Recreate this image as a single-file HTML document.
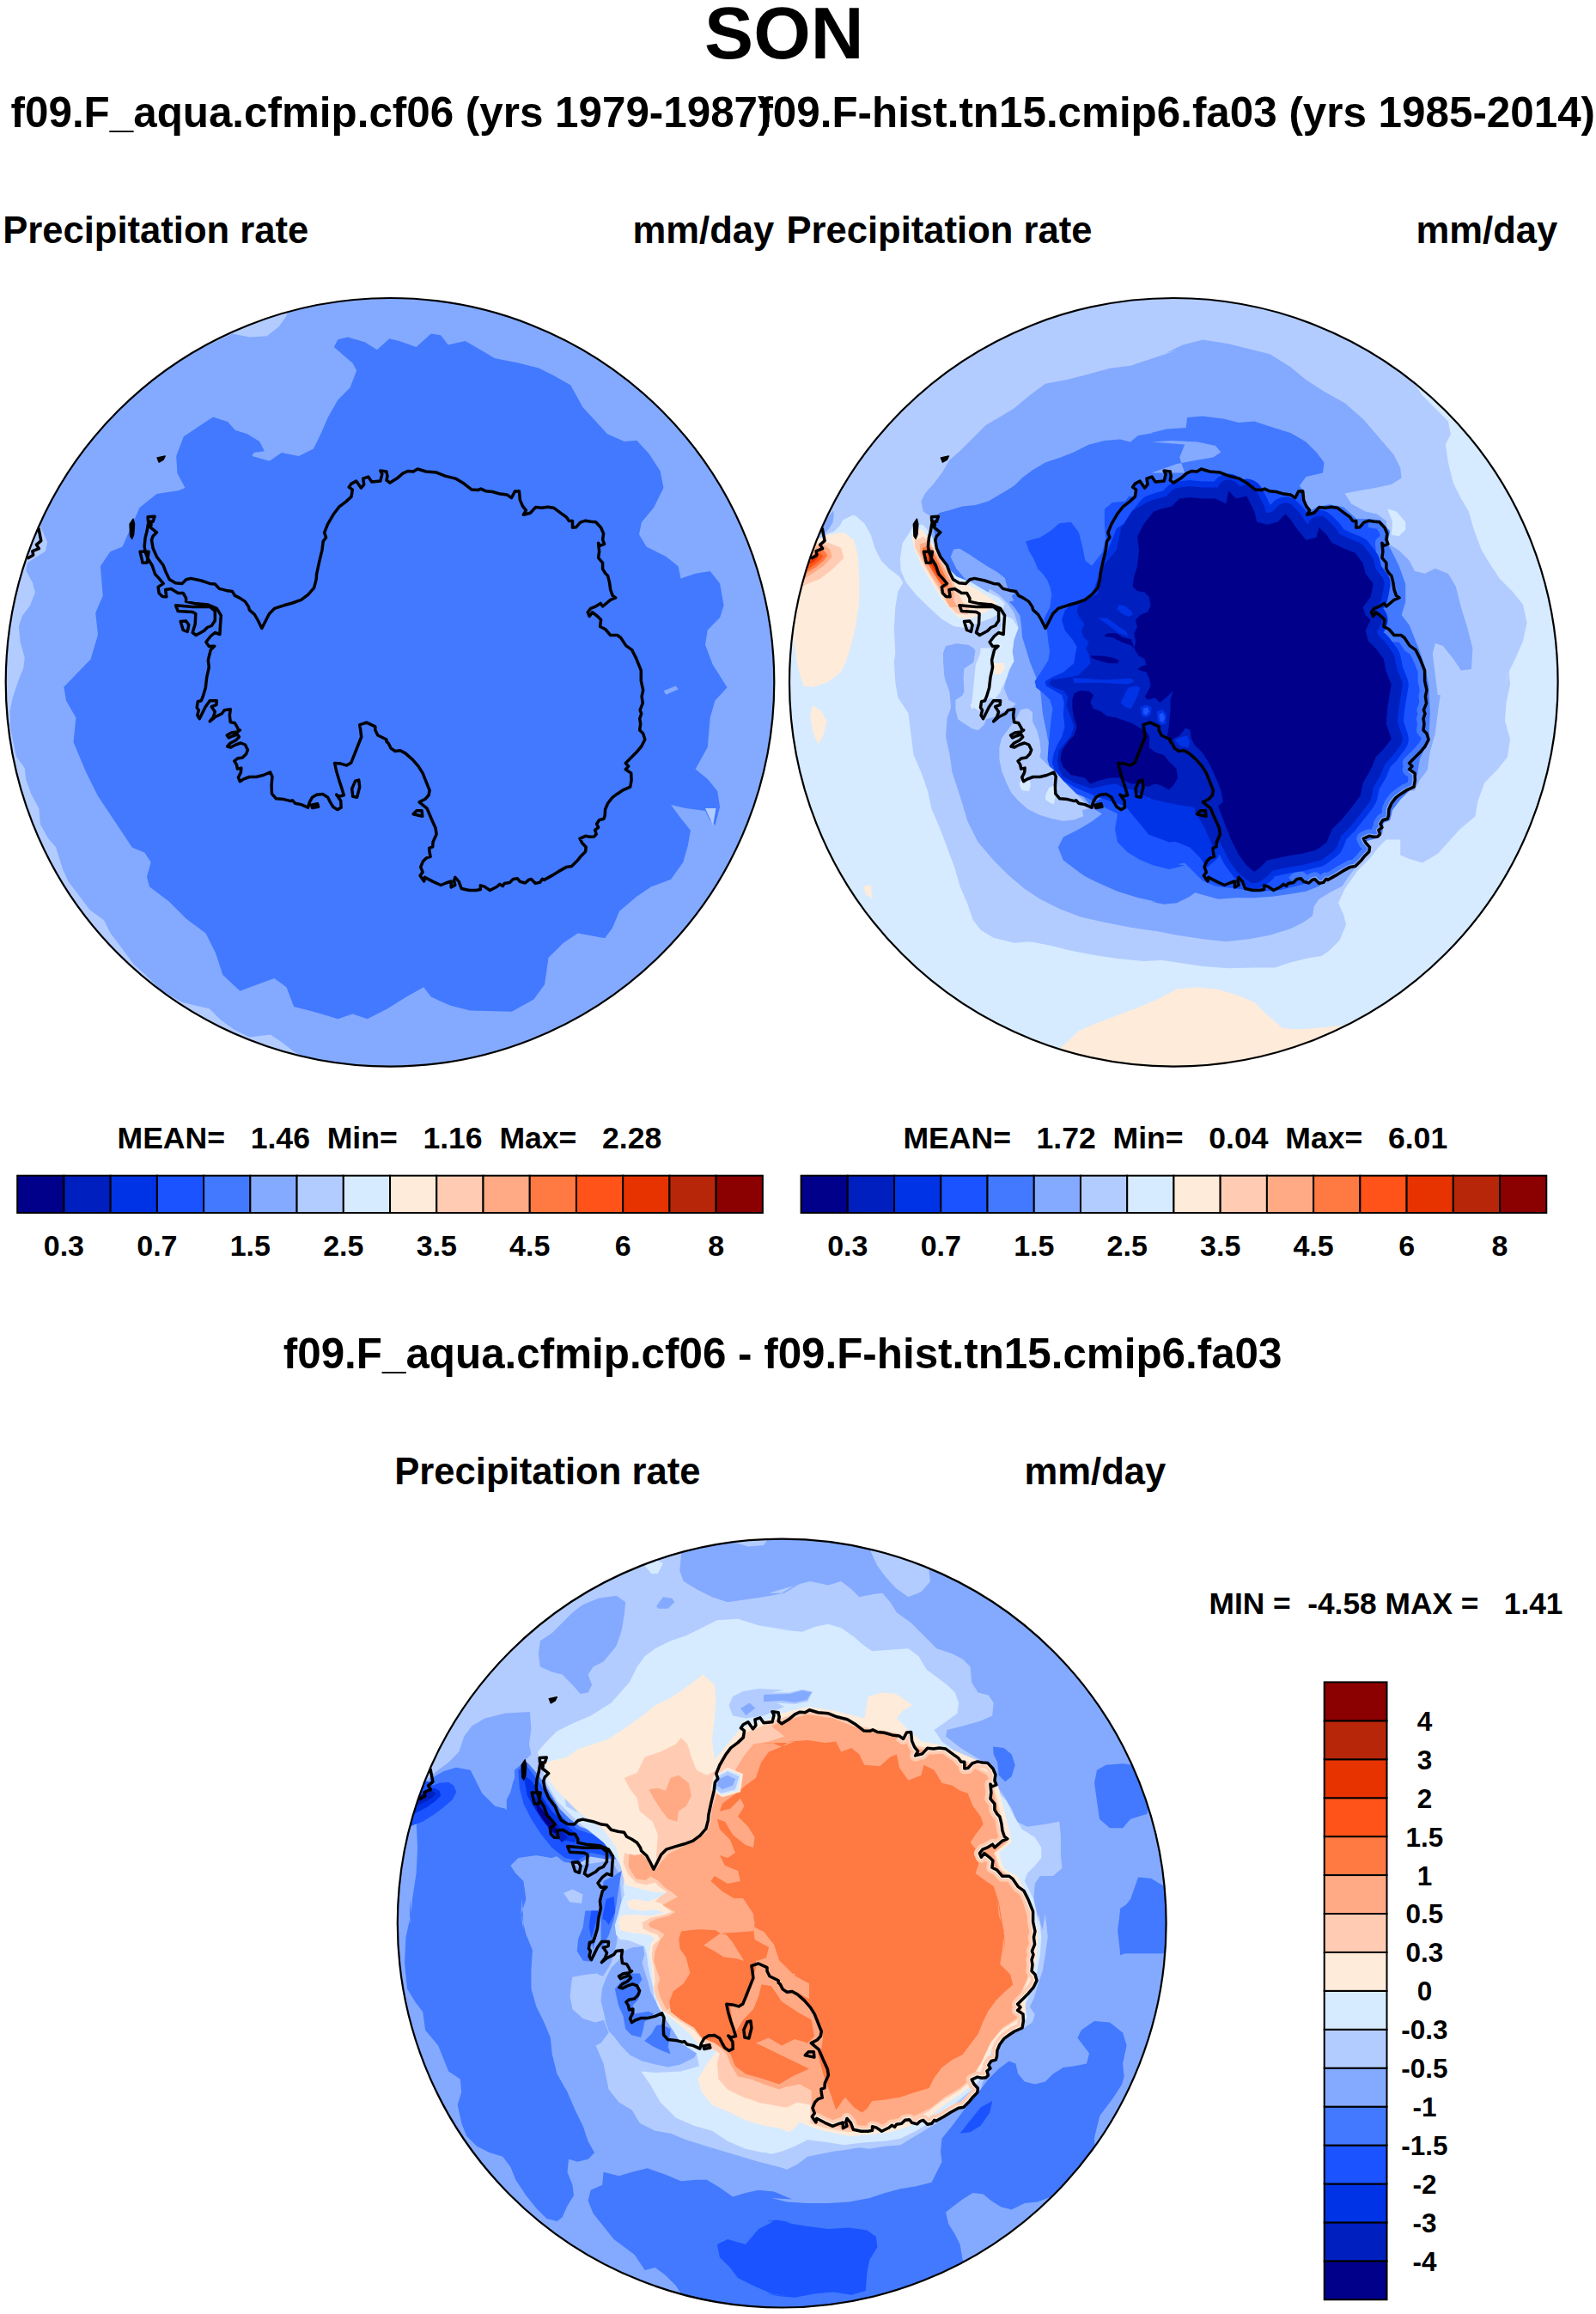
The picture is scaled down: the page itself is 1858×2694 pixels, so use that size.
<!DOCTYPE html>
<html><head><meta charset="utf-8"><title>SON</title>
<style>html,body{margin:0;padding:0;background:#fff;}body{width:1858px;height:2694px;overflow:hidden;font-family:"Liberation Sans",sans-serif;}svg{display:block;}</style>
</head><body>
<svg width="1858" height="2694" viewBox="0 0 1858 2694" font-family="'Liberation Sans', sans-serif" font-weight="bold" fill="#000">
<rect width="1858" height="2694" fill="#fff"/>
<text x="820.1" y="68.4" font-size="85.6" text-anchor="start" xml:space="preserve" style="white-space:pre" >SON</text>
<text x="12.6" y="147.5" font-size="49.35" text-anchor="start" xml:space="preserve" style="white-space:pre" >f09.F_aqua.cfmip.cf06 (yrs 1979-1987)</text>
<text x="883.4" y="147.5" font-size="49.35" text-anchor="start" xml:space="preserve" style="white-space:pre" >f09.F-hist.tn15.cmip6.fa03 (yrs 1985-2014)</text>
<text x="3.2" y="282.6" font-size="43.6" text-anchor="start" xml:space="preserve" style="white-space:pre" >Precipitation rate</text>
<text x="736.5" y="282.6" font-size="43.6" text-anchor="start" xml:space="preserve" style="white-space:pre" >mm/day</text>
<text x="915.4" y="282.6" font-size="43.6" text-anchor="start" xml:space="preserve" style="white-space:pre" >Precipitation rate</text>
<text x="1648.6" y="282.6" font-size="43.6" text-anchor="start" xml:space="preserve" style="white-space:pre" >mm/day</text>
<text x="136.5" y="1336.8" font-size="35.6" text-anchor="start" xml:space="preserve" style="white-space:pre" >MEAN=   1.46  Min=   1.16  Max=   2.28</text>
<text x="1051.4" y="1336.8" font-size="35.6" text-anchor="start" xml:space="preserve" style="white-space:pre" >MEAN=   1.72  Min=   0.04  Max=   6.01</text>
<text x="329.8" y="1593.2" font-size="49.35" text-anchor="start" xml:space="preserve" style="white-space:pre" >f09.F_aqua.cfmip.cf06 - f09.F-hist.tn15.cmip6.fa03</text>
<text x="459.3" y="1727.5" font-size="43.6" text-anchor="start" xml:space="preserve" style="white-space:pre" >Precipitation rate</text>
<text x="1192.6" y="1727.5" font-size="43.6" text-anchor="start" xml:space="preserve" style="white-space:pre" >mm/day</text>
<text x="1407.5" y="1879.3" font-size="35.3" text-anchor="start" xml:space="preserve" style="white-space:pre" >MIN =  -4.58 MAX =   1.41</text>
<clipPath id="cl0"><circle cx="454.0" cy="794.3" r="447.3"/></clipPath>
<clipPath id="coastclip0"><path d="M172.5,609.8 176.1,610.2 175.3,614.2 182.5,619.8 178.1,624.2 176.5,628.6 178.1,638.3 182.5,648.3 190.2,658.3 193.2,666.3 197.2,674.4 204.2,678.8 212.2,679.4 216.6,674.8 222.2,673.4 234.3,676.0 244.3,679.4 250.3,680.0 255.3,685.4 263.3,687.4 270.4,688.4 273.4,693.4 279.4,696.4 285.4,700.4 289.4,706.4 290.4,710.1 296.4,715.5 300.4,722.5 304.8,731.5 309.4,722.5 313.5,714.5 319.5,708.4 330.5,704.8 340.5,702.0 350.6,698.4 358.6,692.4 365.6,684.4 368.2,674.4 368.6,668.3 371.6,654.3 375.0,640.3 376.2,630.3 379.6,625.8 377.6,620.2 381.6,610.2 388.6,598.2 394.7,590.2 402.7,584.1 409.1,578.1 410.3,570.1 406.3,567.1 409.1,563.1 414.7,560.1 420.3,568.1 423.7,564.1 422.7,557.1 428.7,555.1 432.8,561.1 442.8,560.1 444.8,552.1 442.8,548.0 450.0,549.0 450.0,550.1 451.0,554.1 450.0,559.1 454.0,562.1 462.0,557.1 469.0,551.1 475.1,548.4 481.1,549.0 486.1,546.0 496.1,549.0 508.1,550.1 518.2,554.1 530.2,557.1 540.2,563.1 549.2,570.1 556.3,570.5 559.9,569.1 565.3,571.7 573.3,572.5 582.3,575.1 590.4,576.1 595.4,579.7 599.4,572.1 604.4,571.7 605.4,582.1 608.4,589.1 612.4,594.2 609.4,599.2 617.4,597.2 623.4,590.6 630.5,591.2 637.5,590.2 644.5,591.2 652.5,597.2 659.5,602.2 662.5,606.6 666.5,606.6 666.5,614.2 670.6,613.8 675.6,608.2 681.6,606.2 687.6,607.2 693.6,607.8 699.6,614.2 702.6,621.2 701.6,628.2 703.6,633.3 698.6,635.3 696.6,632.3 697.6,642.3 696.6,649.3 701.6,655.3 701.6,662.3 704.6,667.3 707.6,670.4 709.6,678.4 710.7,686.4 713.1,693.4 716.7,696.0 710.7,698.4 701.6,706.0 699.2,702.4 692.6,706.4 687.6,708.4 684.2,712.9 686.2,717.5 689.6,712.9 695.6,717.5 699.6,721.5 698.6,729.5 704.6,732.5 710.7,739.5 718.7,739.5 722.7,742.5 728.7,751.6 735.7,756.6 740.7,766.6 746.3,780.6 746.3,792.7 748.7,803.7 747.1,810.7 748.3,818.7 745.1,826.7 746.7,830.8 744.7,836.8 745.7,842.8 744.7,850.0 744.7,850.0 748.7,854.0 750.8,861.0 746.7,869.0 740.7,876.1 734.7,882.1 728.3,888.5 731.7,892.1 728.3,895.7 734.7,900.1 735.1,908.1 733.7,916.2 724.7,920.2 718.7,924.2 712.7,928.6 707.6,935.2 704.6,942.2 704.2,949.2 703.0,953.3 697.6,954.7 694.6,959.3 696.6,963.3 692.6,966.3 694.2,971.3 691.6,973.9 686.6,974.3 681.6,973.3 675.0,976.3 677.6,981.3 682.2,986.3 681.6,991.4 676.6,996.4 672.6,1001.4 665.5,1008.4 659.5,1009.4 650.5,1014.4 642.5,1019.4 633.5,1024.4 631.5,1023.4 628.4,1027.4 623.4,1028.4 618.4,1023.4 615.4,1024.4 611.4,1028.0 605.4,1026.4 602.4,1022.8 597.4,1023.4 593.4,1027.4 587.3,1028.4 585.3,1031.5 581.9,1029.4 578.3,1032.5 570.3,1036.5 563.9,1032.1 559.3,1030.9 559.3,1035.5 554.3,1036.5 546.2,1036.5 537.2,1034.5 534.2,1026.4 529.8,1021.4 528.6,1025.4 529.8,1030.5 525.2,1032.9 525.2,1026.0 519.2,1028.0 513.2,1030.5 504.1,1026.4 494.5,1021.4 493.7,1026.0 489.1,1019.4 492.1,1015.4 489.7,1009.4 492.5,1002.8 496.5,998.8 501.1,997.4 500.1,992.0 499.7,987.3 503.7,985.9 504.1,980.3 508.1,971.3 507.1,964.3 503.1,955.3 497.1,941.2 488.1,933.8 495.1,930.2 499.1,925.8 500.1,920.2 496.1,910.2 492.1,900.1 487.1,892.1 480.1,884.1 472.1,877.1 466.0,873.7 460.0,874.5 455.0,871.1 452.0,865.0 450.0,863.6 450.0,861.0 439.8,856.0 436.8,850.0 436.8,850.0 436.8,845.8 426.7,841.2 418.7,843.8 419.7,850.0 419.7,850.0 420.7,858.0 416.7,868.0 412.7,878.1 408.7,888.1 403.7,891.1 396.7,889.1 389.6,888.5 391.7,898.1 394.7,908.1 397.7,917.2 400.3,925.8 394.7,927.2 391.7,925.2 396.7,932.2 397.1,940.2 392.7,942.6 387.6,939.2 384.6,934.2 381.6,928.2 375.6,924.6 368.6,925.2 363.6,928.2 360.2,934.2 358.6,940.2 350.6,936.6 343.5,935.2 340.5,931.8 338.5,932.6 330.5,930.6 321.5,929.8 316.5,924.2 316.1,914.2 316.9,904.1 314.5,899.1 306.4,902.5 298.4,904.5 290.4,904.5 283.4,907.1 279.4,909.7 277.4,905.1 280.4,899.1 280.8,894.1 276.4,895.1 275.4,890.1 272.8,886.1 276.4,883.1 282.4,882.1 286.4,878.1 288.4,873.1 285.4,867.0 280.4,865.0 274.4,867.0 268.3,870.1 264.7,869.0 268.3,865.0 274.4,862.0 278.4,858.0 276.4,855.0 270.4,857.0 266.3,859.0 264.3,856.0 269.3,853.0 276.4,852.0 279.4,850.0 277.4,850.0 276.4,846.8 273.4,841.8 268.3,840.8 267.3,832.8 268.3,825.7 261.3,826.7 258.3,830.8 250.3,834.8 244.3,839.8 248.3,834.8 250.3,828.7 246.3,822.7 251.9,820.7 252.3,815.7 244.3,815.7 239.3,822.7 235.3,830.8 232.3,836.8 229.8,832.8 231.3,826.7 229.2,823.7 230.3,816.7 234.3,815.7 236.3,810.7 239.3,800.7 240.7,788.6 243.3,776.6 242.3,768.6 245.3,756.6 249.7,752.2 243.3,752.6 239.9,747.5 245.3,740.5 250.3,736.5 255.9,738.5 256.3,730.5 257.3,716.5 252.3,708.4 242.3,704.0 226.2,702.4 216.6,700.4 216.6,696.4 213.2,690.4 207.2,690.4 199.2,685.4 192.6,686.4 193.8,694.8 189.1,694.4 185.1,690.4 184.1,683.4 190.2,679.4 185.1,673.4 180.5,668.3 177.1,658.3 172.1,650.3 169.1,642.3 168.1,636.3 169.1,626.2 171.1,618.2 172.5,609.8Z"/></clipPath>
<g clip-path="url(#cl0)">
<circle cx="454.0" cy="794.3" r="449.3" fill="#84AAFF"/>
<g fill="#4279FF" ><path d="M74.1,800.1 105.5,767.6 114.0,739.1 111.2,713.4 119.7,693.5 116.9,659.3 128.3,642.2 142.5,636.5 162.5,590.9 182.4,574.9 208.1,570.9 215.5,568.1 206.4,550.9 205.2,531.0 213.8,508.2 230.9,496.8 248.0,485.4 265.1,491.1 273.7,500.8 287.9,505.3 302.2,513.9 307.9,525.3 295.3,527.0 293.6,531.0 313.6,536.7 327.8,527.0 347.8,531.0 364.9,522.4 373.4,505.3 382.0,485.4 393.4,465.4 407.6,451.2 415.1,431.2 410.5,422.7 399.1,413.0 388.8,403.9 393.4,395.3 404.8,392.5 424.7,398.2 439.0,407.3 453.2,394.2 464.7,397.0 484.6,403.9 501.7,388.5 513.1,390.2 521.7,401.6 541.6,397.0 561.6,408.4 575.8,417.0 604.3,422.7 627.1,428.4 644.2,436.9 664.2,448.3 678.4,474.0 692.7,489.4 707.0,505.3 726.9,513.9 741.2,512.7 755.4,528.1 768.5,548.1 772.5,568.1 761.1,590.9 746.9,608.0 744.0,622.2 752.6,636.5 775.4,647.9 789.6,659.3 792.5,673.5 809.6,667.8 826.7,665.0 838.1,679.2 842.6,704.9 838.1,719.1 823.8,733.4 821.0,750.5 829.5,773.3 843.8,796.1 846.6,800.3 832.4,815.7 826.7,835.6 823.8,869.8 809.6,895.5 823.8,906.9 835.2,921.1 838.1,939.4 832.4,961.0 826.7,955.3 821.0,943.9 798.2,941.1 781.1,937.1 792.5,952.5 803.9,966.7 801.0,983.8 795.3,1003.8 781.1,1023.8 758.3,1032.3 741.2,1043.7 721.2,1060.8 712.7,1080.8 704.1,1092.2 672.7,1086.5 655.6,1097.9 638.5,1115.0 634.0,1146.3 621.4,1163.4 595.8,1177.7 547.3,1176.5 524.5,1170.8 501.7,1160.6 493.2,1149.2 473.2,1160.6 450.4,1174.8 427.6,1186.2 410.5,1180.5 393.4,1186.2 364.9,1177.7 342.1,1172.0 333.5,1149.2 319.3,1138.9 299.3,1146.3 279.4,1153.7 259.4,1134.9 250.9,1109.3 239.5,1086.5 216.6,1069.4 196.7,1049.4 173.9,1032.3 171.0,1020.9 175.6,1003.8 168.2,992.4 153.9,986.7 136.8,961.0 114.0,926.8 99.8,898.3 85.5,864.1 88.4,835.6 77.0,815.7 74.1,798.6Z"/></g>
<g fill="#84AAFF" ><path d="M332.4,482.5 340.9,480.8 339.2,496.8 330.7,498.5Z"/><path d="M772.5,804.3 786.8,798.6 789.6,802.5 775.4,808.8Z"/></g>
<g fill="#B3CCFF" ><path d="M45.4,609.9 49.9,619.0 55.1,631.1 53.0,641.7 40.8,649.3 31.8,655.3 30.3,664.4 37.8,678.0 40.8,690.1 34.8,705.2 25.7,717.3 21.8,729.4 23.6,747.6 28.7,765.7 27.2,777.9 20.6,794.5 15.1,811.1 11.5,827.8 12.1,847.4 15.1,862.6 18.8,880.7 28.7,894.3 30.3,908.0 36.3,924.6 45.4,941.2 46.9,959.4 56.0,976.0 65.1,986.6 72.6,1010.8 79.3,1026.0 90.8,1041.1 104.4,1059.2 121.0,1071.3 128.6,1086.5 142.2,1104.6 155.8,1122.8 169.4,1134.9 187.6,1153.0 211.8,1166.7 230.0,1171.2 243.6,1174.2 257.2,1187.8 272.3,1198.4 290.5,1207.5 314.7,1204.5 328.3,1213.6 341.9,1224.1 357.0,1233.2 363.1,1286.2 -30.3,1286.2 -30.3,590.3 30.3,590.3Z"/><path d="M270.8,388.5 290.8,392.5 310.7,391.3 325.0,379.9 333.5,367.4 342.1,340.0 228.1,340.0 228.1,408.4Z"/><path d="M821.0,941.1 833.5,941.1 830.1,961.0Z"/></g>
<path d="M172.5,609.8 176.1,610.2 175.3,614.2 182.5,619.8 178.1,624.2 176.5,628.6 178.1,638.3 182.5,648.3 190.2,658.3 193.2,666.3 197.2,674.4 204.2,678.8 212.2,679.4 216.6,674.8 222.2,673.4 234.3,676.0 244.3,679.4 250.3,680.0 255.3,685.4 263.3,687.4 270.4,688.4 273.4,693.4 279.4,696.4 285.4,700.4 289.4,706.4 290.4,710.1 296.4,715.5 300.4,722.5 304.8,731.5 309.4,722.5 313.5,714.5 319.5,708.4 330.5,704.8 340.5,702.0 350.6,698.4 358.6,692.4 365.6,684.4 368.2,674.4 368.6,668.3 371.6,654.3 375.0,640.3 376.2,630.3 379.6,625.8 377.6,620.2 381.6,610.2 388.6,598.2 394.7,590.2 402.7,584.1 409.1,578.1 410.3,570.1 406.3,567.1 409.1,563.1 414.7,560.1 420.3,568.1 423.7,564.1 422.7,557.1 428.7,555.1 432.8,561.1 442.8,560.1 444.8,552.1 442.8,548.0 450.0,549.0 450.0,550.1 451.0,554.1 450.0,559.1 454.0,562.1 462.0,557.1 469.0,551.1 475.1,548.4 481.1,549.0 486.1,546.0 496.1,549.0 508.1,550.1 518.2,554.1 530.2,557.1 540.2,563.1 549.2,570.1 556.3,570.5 559.9,569.1 565.3,571.7 573.3,572.5 582.3,575.1 590.4,576.1 595.4,579.7 599.4,572.1 604.4,571.7 605.4,582.1 608.4,589.1 612.4,594.2 609.4,599.2 617.4,597.2 623.4,590.6 630.5,591.2 637.5,590.2 644.5,591.2 652.5,597.2 659.5,602.2 662.5,606.6 666.5,606.6 666.5,614.2 670.6,613.8 675.6,608.2 681.6,606.2 687.6,607.2 693.6,607.8 699.6,614.2 702.6,621.2 701.6,628.2 703.6,633.3 698.6,635.3 696.6,632.3 697.6,642.3 696.6,649.3 701.6,655.3 701.6,662.3 704.6,667.3 707.6,670.4 709.6,678.4 710.7,686.4 713.1,693.4 716.7,696.0 710.7,698.4 701.6,706.0 699.2,702.4 692.6,706.4 687.6,708.4 684.2,712.9 686.2,717.5 689.6,712.9 695.6,717.5 699.6,721.5 698.6,729.5 704.6,732.5 710.7,739.5 718.7,739.5 722.7,742.5 728.7,751.6 735.7,756.6 740.7,766.6 746.3,780.6 746.3,792.7 748.7,803.7 747.1,810.7 748.3,818.7 745.1,826.7 746.7,830.8 744.7,836.8 745.7,842.8 744.7,850.0 744.7,850.0 748.7,854.0 750.8,861.0 746.7,869.0 740.7,876.1 734.7,882.1 728.3,888.5 731.7,892.1 728.3,895.7 734.7,900.1 735.1,908.1 733.7,916.2 724.7,920.2 718.7,924.2 712.7,928.6 707.6,935.2 704.6,942.2 704.2,949.2 703.0,953.3 697.6,954.7 694.6,959.3 696.6,963.3 692.6,966.3 694.2,971.3 691.6,973.9 686.6,974.3 681.6,973.3 675.0,976.3 677.6,981.3 682.2,986.3 681.6,991.4 676.6,996.4 672.6,1001.4 665.5,1008.4 659.5,1009.4 650.5,1014.4 642.5,1019.4 633.5,1024.4 631.5,1023.4 628.4,1027.4 623.4,1028.4 618.4,1023.4 615.4,1024.4 611.4,1028.0 605.4,1026.4 602.4,1022.8 597.4,1023.4 593.4,1027.4 587.3,1028.4 585.3,1031.5 581.9,1029.4 578.3,1032.5 570.3,1036.5 563.9,1032.1 559.3,1030.9 559.3,1035.5 554.3,1036.5 546.2,1036.5 537.2,1034.5 534.2,1026.4 529.8,1021.4 528.6,1025.4 529.8,1030.5 525.2,1032.9 525.2,1026.0 519.2,1028.0 513.2,1030.5 504.1,1026.4 494.5,1021.4 493.7,1026.0 489.1,1019.4 492.1,1015.4 489.7,1009.4 492.5,1002.8 496.5,998.8 501.1,997.4 500.1,992.0 499.7,987.3 503.7,985.9 504.1,980.3 508.1,971.3 507.1,964.3 503.1,955.3 497.1,941.2 488.1,933.8 495.1,930.2 499.1,925.8 500.1,920.2 496.1,910.2 492.1,900.1 487.1,892.1 480.1,884.1 472.1,877.1 466.0,873.7 460.0,874.5 455.0,871.1 452.0,865.0 450.0,863.6 450.0,861.0 439.8,856.0 436.8,850.0 436.8,850.0 436.8,845.8 426.7,841.2 418.7,843.8 419.7,850.0 419.7,850.0 420.7,858.0 416.7,868.0 412.7,878.1 408.7,888.1 403.7,891.1 396.7,889.1 389.6,888.5 391.7,898.1 394.7,908.1 397.7,917.2 400.3,925.8 394.7,927.2 391.7,925.2 396.7,932.2 397.1,940.2 392.7,942.6 387.6,939.2 384.6,934.2 381.6,928.2 375.6,924.6 368.6,925.2 363.6,928.2 360.2,934.2 358.6,940.2 350.6,936.6 343.5,935.2 340.5,931.8 338.5,932.6 330.5,930.6 321.5,929.8 316.5,924.2 316.1,914.2 316.9,904.1 314.5,899.1 306.4,902.5 298.4,904.5 290.4,904.5 283.4,907.1 279.4,909.7 277.4,905.1 280.4,899.1 280.8,894.1 276.4,895.1 275.4,890.1 272.8,886.1 276.4,883.1 282.4,882.1 286.4,878.1 288.4,873.1 285.4,867.0 280.4,865.0 274.4,867.0 268.3,870.1 264.7,869.0 268.3,865.0 274.4,862.0 278.4,858.0 276.4,855.0 270.4,857.0 266.3,859.0 264.3,856.0 269.3,853.0 276.4,852.0 279.4,850.0 277.4,850.0 276.4,846.8 273.4,841.8 268.3,840.8 267.3,832.8 268.3,825.7 261.3,826.7 258.3,830.8 250.3,834.8 244.3,839.8 248.3,834.8 250.3,828.7 246.3,822.7 251.9,820.7 252.3,815.7 244.3,815.7 239.3,822.7 235.3,830.8 232.3,836.8 229.8,832.8 231.3,826.7 229.2,823.7 230.3,816.7 234.3,815.7 236.3,810.7 239.3,800.7 240.7,788.6 243.3,776.6 242.3,768.6 245.3,756.6 249.7,752.2 243.3,752.6 239.9,747.5 245.3,740.5 250.3,736.5 255.9,738.5 256.3,730.5 257.3,716.5 252.3,708.4 242.3,704.0 226.2,702.4 216.6,700.4 216.6,696.4 213.2,690.4 207.2,690.4 199.2,685.4 192.6,686.4 193.8,694.8 189.1,694.4 185.1,690.4 184.1,683.4 190.2,679.4 185.1,673.4 180.5,668.3 177.1,658.3 172.1,650.3 169.1,642.3 168.1,636.3 169.1,626.2 171.1,618.2 172.5,609.8Z M204.6,704.8 224.2,706.4 244.3,706.4 250.3,711.5 250.3,722.5 246.3,728.5 241.3,730.5 237.3,734.5 228.2,739.5 224.2,736.5 227.2,726.5 227.8,714.5 224.2,712.5 207.2,711.5Z M210.2,723.5 216.6,722.9 219.8,727.5 218.2,735.5 213.2,733.5Z M172.1,601.8 180.1,601.2 178.1,607.2 172.5,607.2Z M481.1,947.8 485.1,943.8 491.1,943.8 491.7,950.3 487.1,949.2Z M362.6,937.2 369.6,935.8 370.6,939.2 363.6,940.6Z M413.7,909.1 417.7,908.1 418.7,916.2 415.7,928.2 410.7,927.2 409.7,918.2Z M163.1,642.3 173.1,642.3 171.1,655.3 166.1,655.3Z" fill="none" stroke="#000" stroke-width="3.5" stroke-linejoin="round"/>
<path d="M155.1,604.2 156.5,610.2 155.7,622.2 153.7,627.2 151.7,624.2 151.1,610.2Z M183.1,533.0 192.2,531.0 190.2,535.0 185.1,538.0Z" fill="#000" stroke="#000" stroke-width="1.5" stroke-linejoin="round"/>
<path d="M44.8,614.5 47.8,629.6 42.4,634.1 45.4,638.7 37.8,641.7 38.7,646.2 31.8,650.2" fill="none" stroke="#000" stroke-width="3.5" stroke-linejoin="round"/>
</g>
<circle cx="454.0" cy="794.3" r="447.3" fill="none" stroke="#000" stroke-width="2.2"/>
<clipPath id="cl1"><circle cx="1366.3" cy="794.3" r="447.3"/></clipPath>
<clipPath id="coastclip1"><path d="M1084.8,609.8 1088.4,610.2 1087.6,614.2 1094.8,619.8 1090.4,624.2 1088.8,628.6 1090.4,638.3 1094.8,648.3 1102.5,658.3 1105.5,666.3 1109.5,674.4 1116.5,678.8 1124.5,679.4 1128.9,674.8 1134.5,673.4 1146.6,676.0 1156.6,679.4 1162.6,680.0 1167.6,685.4 1175.6,687.4 1182.7,688.4 1185.7,693.4 1191.7,696.4 1197.7,700.4 1201.7,706.4 1202.7,710.1 1208.7,715.5 1212.7,722.5 1217.1,731.5 1221.7,722.5 1225.8,714.5 1231.8,708.4 1242.8,704.8 1252.8,702.0 1262.9,698.4 1270.9,692.4 1277.9,684.4 1280.5,674.4 1280.9,668.3 1283.9,654.3 1287.3,640.3 1288.5,630.3 1291.9,625.8 1289.9,620.2 1293.9,610.2 1300.9,598.2 1307.0,590.2 1315.0,584.1 1321.4,578.1 1322.6,570.1 1318.6,567.1 1321.4,563.1 1327.0,560.1 1332.6,568.1 1336.0,564.1 1335.0,557.1 1341.0,555.1 1345.1,561.1 1355.1,560.1 1357.1,552.1 1355.1,548.0 1362.3,549.0 1362.3,550.1 1363.3,554.1 1362.3,559.1 1366.3,562.1 1374.3,557.1 1381.3,551.1 1387.4,548.4 1393.4,549.0 1398.4,546.0 1408.4,549.0 1420.4,550.1 1430.5,554.1 1442.5,557.1 1452.5,563.1 1461.5,570.1 1468.6,570.5 1472.2,569.1 1477.6,571.7 1485.6,572.5 1494.6,575.1 1502.7,576.1 1507.7,579.7 1511.7,572.1 1516.7,571.7 1517.7,582.1 1520.7,589.1 1524.7,594.2 1521.7,599.2 1529.7,597.2 1535.7,590.6 1542.8,591.2 1549.8,590.2 1556.8,591.2 1564.8,597.2 1571.8,602.2 1574.8,606.6 1578.8,606.6 1578.8,614.2 1582.9,613.8 1587.9,608.2 1593.9,606.2 1599.9,607.2 1605.9,607.8 1611.9,614.2 1614.9,621.2 1613.9,628.2 1615.9,633.3 1610.9,635.3 1608.9,632.3 1609.9,642.3 1608.9,649.3 1613.9,655.3 1613.9,662.3 1616.9,667.3 1619.9,670.4 1621.9,678.4 1623.0,686.4 1625.4,693.4 1629.0,696.0 1623.0,698.4 1613.9,706.0 1611.5,702.4 1604.9,706.4 1599.9,708.4 1596.5,712.9 1598.5,717.5 1601.9,712.9 1607.9,717.5 1611.9,721.5 1610.9,729.5 1616.9,732.5 1623.0,739.5 1631.0,739.5 1635.0,742.5 1641.0,751.6 1648.0,756.6 1653.0,766.6 1658.6,780.6 1658.6,792.7 1661.0,803.7 1659.4,810.7 1660.6,818.7 1657.4,826.7 1659.0,830.8 1657.0,836.8 1658.0,842.8 1657.0,850.0 1657.0,850.0 1661.0,854.0 1663.1,861.0 1659.0,869.0 1653.0,876.1 1647.0,882.1 1640.6,888.5 1644.0,892.1 1640.6,895.7 1647.0,900.1 1647.4,908.1 1646.0,916.2 1637.0,920.2 1631.0,924.2 1625.0,928.6 1619.9,935.2 1616.9,942.2 1616.5,949.2 1615.3,953.3 1609.9,954.7 1606.9,959.3 1608.9,963.3 1604.9,966.3 1606.5,971.3 1603.9,973.9 1598.9,974.3 1593.9,973.3 1587.3,976.3 1589.9,981.3 1594.5,986.3 1593.9,991.4 1588.9,996.4 1584.9,1001.4 1577.8,1008.4 1571.8,1009.4 1562.8,1014.4 1554.8,1019.4 1545.8,1024.4 1543.8,1023.4 1540.7,1027.4 1535.7,1028.4 1530.7,1023.4 1527.7,1024.4 1523.7,1028.0 1517.7,1026.4 1514.7,1022.8 1509.7,1023.4 1505.7,1027.4 1499.6,1028.4 1497.6,1031.5 1494.2,1029.4 1490.6,1032.5 1482.6,1036.5 1476.2,1032.1 1471.6,1030.9 1471.6,1035.5 1466.6,1036.5 1458.5,1036.5 1449.5,1034.5 1446.5,1026.4 1442.1,1021.4 1440.9,1025.4 1442.1,1030.5 1437.5,1032.9 1437.5,1026.0 1431.5,1028.0 1425.5,1030.5 1416.4,1026.4 1406.8,1021.4 1406.0,1026.0 1401.4,1019.4 1404.4,1015.4 1402.0,1009.4 1404.8,1002.8 1408.8,998.8 1413.4,997.4 1412.4,992.0 1412.0,987.3 1416.0,985.9 1416.4,980.3 1420.4,971.3 1419.4,964.3 1415.4,955.3 1409.4,941.2 1400.4,933.8 1407.4,930.2 1411.4,925.8 1412.4,920.2 1408.4,910.2 1404.4,900.1 1399.4,892.1 1392.4,884.1 1384.4,877.1 1378.3,873.7 1372.3,874.5 1367.3,871.1 1364.3,865.0 1362.3,863.6 1362.3,861.0 1352.1,856.0 1349.1,850.0 1349.1,850.0 1349.1,845.8 1339.0,841.2 1331.0,843.8 1332.0,850.0 1332.0,850.0 1333.0,858.0 1329.0,868.0 1325.0,878.1 1321.0,888.1 1316.0,891.1 1309.0,889.1 1301.9,888.5 1304.0,898.1 1307.0,908.1 1310.0,917.2 1312.6,925.8 1307.0,927.2 1304.0,925.2 1309.0,932.2 1309.4,940.2 1305.0,942.6 1299.9,939.2 1296.9,934.2 1293.9,928.2 1287.9,924.6 1280.9,925.2 1275.9,928.2 1272.5,934.2 1270.9,940.2 1262.9,936.6 1255.8,935.2 1252.8,931.8 1250.8,932.6 1242.8,930.6 1233.8,929.8 1228.8,924.2 1228.4,914.2 1229.2,904.1 1226.8,899.1 1218.7,902.5 1210.7,904.5 1202.7,904.5 1195.7,907.1 1191.7,909.7 1189.7,905.1 1192.7,899.1 1193.1,894.1 1188.7,895.1 1187.7,890.1 1185.1,886.1 1188.7,883.1 1194.7,882.1 1198.7,878.1 1200.7,873.1 1197.7,867.0 1192.7,865.0 1186.7,867.0 1180.6,870.1 1177.0,869.0 1180.6,865.0 1186.7,862.0 1190.7,858.0 1188.7,855.0 1182.7,857.0 1178.6,859.0 1176.6,856.0 1181.6,853.0 1188.7,852.0 1191.7,850.0 1189.7,850.0 1188.7,846.8 1185.7,841.8 1180.6,840.8 1179.6,832.8 1180.6,825.7 1173.6,826.7 1170.6,830.8 1162.6,834.8 1156.6,839.8 1160.6,834.8 1162.6,828.7 1158.6,822.7 1164.2,820.7 1164.6,815.7 1156.6,815.7 1151.6,822.7 1147.6,830.8 1144.6,836.8 1142.1,832.8 1143.6,826.7 1141.5,823.7 1142.6,816.7 1146.6,815.7 1148.6,810.7 1151.6,800.7 1153.0,788.6 1155.6,776.6 1154.6,768.6 1157.6,756.6 1162.0,752.2 1155.6,752.6 1152.2,747.5 1157.6,740.5 1162.6,736.5 1168.2,738.5 1168.6,730.5 1169.6,716.5 1164.6,708.4 1154.6,704.0 1138.5,702.4 1128.9,700.4 1128.9,696.4 1125.5,690.4 1119.5,690.4 1111.5,685.4 1104.9,686.4 1106.1,694.8 1101.4,694.4 1097.4,690.4 1096.4,683.4 1102.5,679.4 1097.4,673.4 1092.8,668.3 1089.4,658.3 1084.4,650.3 1081.4,642.3 1080.4,636.3 1081.4,626.2 1083.4,618.2 1084.8,609.8Z"/></clipPath>
<g clip-path="url(#cl1)">
<circle cx="1366.3" cy="794.3" r="449.3" fill="#D6EBFF"/>
<g fill="#B3CCFF" ><path d="M1750.0,300.0 1646.8,446.8 1655.8,460.3 1670.8,475.3 1685.9,490.4 1688.9,505.4 1682.9,517.4 1685.9,538.5 1691.9,562.6 1700.9,580.6 1709.9,595.6 1715.9,616.7 1725.0,640.8 1734.0,655.8 1746.0,673.8 1761.1,688.9 1773.1,703.9 1777.6,725.0 1773.1,746.0 1764.1,767.1 1755.0,785.1 1752.0,803.2 1756.5,779.0 1758.0,797.1 1753.5,818.1 1752.0,839.2 1758.0,860.2 1755.0,881.3 1743.0,896.3 1728.0,911.4 1720.5,932.4 1717.4,950.5 1699.4,965.5 1685.9,980.5 1673.8,994.1 1655.8,1004.6 1640.8,1000.1 1630.2,995.6 1630.2,977.5 1613.7,977.5 1604.7,986.5 1595.6,998.6 1580.6,1013.6 1565.6,1034.7 1558.0,1051.2 1564.1,1064.7 1567.1,1076.8 1559.5,1094.8 1547.5,1106.8 1538.5,1112.9 1520.5,1115.9 1502.4,1120.4 1484.4,1126.4 1460.3,1126.4 1430.2,1127.3 1400.2,1124.9 1370.1,1120.4 1340.0,1115.9 1361.1,1117.4 1331.1,1118.9 1301.0,1115.9 1270.9,1111.4 1246.8,1106.8 1222.8,1100.8 1198.7,1096.3 1180.7,1097.8 1156.6,1091.8 1141.6,1082.8 1132.6,1070.8 1126.5,1052.7 1117.5,1031.7 1111.5,1010.6 1102.5,986.5 1093.5,962.5 1084.4,941.4 1079.9,920.4 1072.4,899.3 1063.4,878.3 1060.4,854.2 1057.4,830.2 1045.3,812.1 1042.3,794.1 1040.8,770.0 1042.3,761.1 1040.8,731.0 1042.3,706.9 1045.3,688.9 1051.4,678.3 1046.8,670.8 1036.3,663.3 1025.8,652.8 1018.3,637.7 1013.8,622.7 1006.2,609.2 995.7,600.2 992.9,599.7 981.1,605.6 978.2,611.4 970.8,618.8 959.1,623.2 940.0,640.0 900.0,300.0Z"/></g>
<g fill="#84AAFF" ><path d="M1084.4,601.7 1074.8,595.6 1072.4,583.6 1076.9,574.6 1087.4,562.6 1096.5,550.5 1105.5,535.5 1117.5,525.0 1132.6,509.9 1147.6,494.9 1165.6,484.4 1180.7,475.3 1198.7,460.3 1216.8,446.8 1240.8,442.3 1264.9,436.2 1292.0,428.7 1316.0,425.7 1343.1,416.7 1370.2,407.7 1340.0,415.2 1358.0,410.7 1376.1,401.7 1400.2,395.6 1430.2,400.2 1454.3,406.2 1478.3,412.2 1502.4,427.2 1520.5,442.3 1541.5,455.8 1565.6,469.3 1586.6,487.4 1604.7,508.4 1622.7,529.5 1630.2,544.5 1631.7,556.5 1619.7,564.1 1598.6,568.6 1580.6,571.6 1565.6,574.6 1573.1,586.6 1589.6,595.6 1603.2,598.6 1613.7,606.2 1616.7,633.2 1628.7,640.8 1640.8,652.8 1646.8,664.8 1658.8,667.8 1670.8,661.8 1685.9,667.8 1694.9,682.9 1700.9,706.9 1708.4,731.0 1714.4,755.0 1712.9,779.1 1700.9,780.6 1691.9,767.1 1679.8,752.0 1670.8,749.0 1667.8,761.1 1670.8,785.1 1673.8,809.2 1676.8,809.1 1673.8,830.2 1670.8,854.2 1664.8,875.3 1661.8,896.3 1652.8,908.3 1646.8,920.4 1640.8,920.4 1628.7,929.4 1619.7,941.4 1616.7,953.5 1609.2,956.5 1607.7,968.5 1601.7,974.5 1589.6,977.5 1594.1,986.5 1586.6,1001.6 1577.6,1010.6 1568.6,1022.6 1562.6,1031.7 1550.5,1037.7 1535.5,1046.7 1529.5,1055.7 1528.0,1066.2 1517.4,1073.8 1502.4,1081.3 1478.3,1088.8 1454.3,1093.3 1427.2,1096.3 1400.2,1093.3 1370.1,1088.8 1340.0,1082.8 1346.1,1084.3 1316.0,1079.8 1285.9,1073.8 1258.9,1067.7 1234.8,1058.7 1210.8,1046.7 1192.7,1034.7 1174.7,1019.6 1156.6,1001.6 1138.6,980.5 1126.5,956.5 1117.5,926.4 1108.5,899.3 1105.5,878.3 1101.0,857.2 1102.5,836.2 1107.0,824.1 1105.5,806.1 1099.5,788.0 1098.0,770.0 1098.0,760.0 1101.0,752.0 1115.0,749.0 1130.0,751.0 1152.0,748.0 1168.0,738.0 1169.0,716.0 1154.0,704.0 1129.0,700.0 1102.0,679.0 1089.0,658.0 1080.0,636.0 1085.0,610.0Z"/></g>
<g fill="#4279FF" ><path d="M1090.5,601.7 1093.5,597.1 1105.5,594.1 1120.5,589.6 1135.6,588.1 1150.6,583.6 1168.6,573.1 1180.7,565.6 1189.7,556.5 1201.7,547.5 1216.8,538.5 1234.8,532.5 1249.8,526.5 1267.9,517.4 1285.9,512.9 1304.0,511.4 1316.0,514.4 1325.0,506.9 1343.1,503.9 1361.1,502.4 1379.2,505.4 1340.0,503.9 1358.0,499.4 1380.6,497.9 1382.1,485.9 1400.2,484.4 1424.2,487.4 1442.3,491.9 1460.3,490.4 1478.3,496.4 1502.4,503.9 1520.5,514.4 1532.5,526.5 1541.5,538.5 1540.0,550.5 1520.5,555.0 1512.9,565.6 1517.4,571.6 1522.0,597.1 1532.5,590.2 1547.5,587.2 1564.1,590.2 1579.1,604.1 1591.1,604.1 1606.2,605.3 1618.2,618.2 1615.2,633.2 1619.7,640.8 1628.7,658.8 1636.2,679.8 1636.2,700.9 1631.7,715.9 1640.8,728.0 1646.8,743.0 1652.8,758.0 1658.8,776.1 1663.3,797.1 1664.8,830.2 1663.3,860.2 1652.8,884.3 1649.8,902.3 1642.3,918.9 1630.2,930.9 1621.2,942.9 1618.2,955.0 1610.7,958.0 1609.2,970.0 1603.2,976.0 1591.1,979.0 1595.0,987.1 1580.6,994.1 1571.6,1004.6 1562.6,1010.6 1550.5,1019.6 1535.5,1031.7 1520.5,1037.7 1502.4,1040.7 1481.4,1043.7 1460.3,1045.2 1439.2,1045.2 1418.2,1046.7 1391.1,1039.2 1385.1,1043.7 1370.1,1051.2 1355.0,1052.7 1340.0,1049.7 1379.2,1046.7 1361.1,1051.2 1346.1,1049.7 1325.0,1045.2 1301.0,1037.7 1279.9,1028.6 1261.9,1019.6 1249.8,1010.6 1237.8,1001.6 1231.8,986.5 1237.8,974.5 1255.9,965.5 1270.9,956.5 1282.9,947.4 1270.9,939.9 1255.9,920.4 1234.8,902.3 1225.8,884.3 1219.8,860.2 1213.8,830.2 1210.8,800.1 1198.7,770.0 1198.8,770.0 1194.4,755.4 1190.0,741.4 1189.1,729.1 1187.4,716.8 1180.4,706.3 1173.3,699.3 1182.7,688.4 1167.6,685.4 1156.6,679.4 1134.5,673.4 1124.5,679.4 1109.5,674.4 1094.8,648.3 1088.8,624.2 1085.0,610.0Z"/></g>
<g fill="#1A53FF" ><path d="M1194.2,630.2 1210.8,625.7 1222.8,618.2 1233.3,609.2 1246.8,607.7 1255.9,619.7 1260.4,637.7 1263.4,652.8 1270.9,658.8 1282.9,643.8 1287.4,628.7 1285.9,610.7 1285.9,592.6 1295.0,585.1 1310.0,583.6 1314.5,577.6 1325.0,580.6 1301.0,610.7 1292.0,640.8 1276.8,685.3 1259.3,702.8 1233.0,720.4 1217.2,730.9 1215.4,720.4 1222.5,706.3 1224.2,692.3 1222.5,683.5 1218.9,674.7 1213.7,667.7 1208.4,662.5 1203.2,650.2 1197.9,641.4 1194.4,630.9Z"/><path d="M1594.1,986.5 1586.6,1001.6 1574.6,1007.6 1562.6,1013.6 1547.5,1019.6 1520.5,1028.6 1490.4,1036.2 1466.3,1037.7 1439.2,1034.7 1415.2,1031.7 1400.2,1025.6 1385.1,1010.6 1379.1,1004.6 1364.1,1007.6 1352.0,1004.6 1340.0,1001.6 1379.2,1007.6 1361.1,1012.1 1343.1,1007.6 1328.0,1001.6 1313.0,992.6 1301.0,980.5 1298.0,965.5 1301.0,947.4 1288.9,941.4 1274.5,933.6 1310.0,914.4 1361.1,899.3 1370.1,920.4 1400.2,950.5 1430.2,980.5 1460.3,1010.6 1520.5,1004.6 1580.6,980.5Z"/></g>
<g fill="#1A53FF" clip-path="url(#coastclip1)"><path d="M1221.0,560.0 1221.2,660.0 1222.5,683.5 1224.2,692.3 1222.1,705.6 1219.5,717.9 1218.9,733.7 1220.4,747.7 1222.1,758.2 1220.4,768.8 1211.6,782.8 1204.6,793.3 1206.3,800.4 1215.1,807.4 1222.1,814.4 1225.6,824.9 1223.9,835.4 1222.1,853.0 1220.4,870.5 1219.5,884.6 1223.0,896.8 1228.2,909.1 1237.9,917.9 1250.2,923.2 1264.2,928.4 1274.7,933.7 1300.0,960.0 1850.0,1260.0 1850.0,300.0 1221.0,300.0Z"/></g>
<g clip-path="url(#coastclip1)" fill="none" stroke-linejoin="round"><path d="M1593.9,606.2 1599.9,607.2 1605.9,607.8 1611.9,614.2 1614.9,621.2 1613.9,628.2 1615.9,633.3 1610.9,635.3 1608.9,632.3 1609.9,642.3 1608.9,649.3 1613.9,655.3 1613.9,662.3 1616.9,667.3 1619.9,670.4 1621.9,678.4 1623.0,686.4 1625.4,693.4 1629.0,696.0 1623.0,698.4 1613.9,706.0 1611.5,702.4 1604.9,706.4 1599.9,708.4 1596.5,712.9 1598.5,717.5 1601.9,712.9 1607.9,717.5 1611.9,721.5 1610.9,729.5 1616.9,732.5 1623.0,739.5 1631.0,739.5 1635.0,742.5 1641.0,751.6 1648.0,756.6 1653.0,766.6 1658.6,780.6 1658.6,792.7 1661.0,803.7 1659.4,810.7 1660.6,818.7 1657.4,826.7 1659.0,830.8 1657.0,836.8 1658.0,842.8 1657.0,850.0 1657.0,850.0 1661.0,854.0 1663.1,861.0 1659.0,869.0 1653.0,876.1 1647.0,882.1 1640.6,888.5 1644.0,892.1 1640.6,895.7 1647.0,900.1 1647.4,908.1 1646.0,916.2 1637.0,920.2 1631.0,924.2 1625.0,928.6 1619.9,935.2 1616.9,942.2 1616.5,949.2 1615.3,953.3 1609.9,954.7 1606.9,959.3 1608.9,963.3 1604.9,966.3 1606.5,971.3 1603.9,973.9 1598.9,974.3 1593.9,973.3 1587.3,976.3 1589.9,981.3 1594.5,986.3 1593.9,991.4 1588.9,996.4 1584.9,1001.4 1577.8,1008.4 1571.8,1009.4 1562.8,1014.4 1554.8,1019.4 1545.8,1024.4 1543.8,1023.4 1540.7,1027.4 1535.7,1028.4 1530.7,1023.4 1527.7,1024.4 1523.7,1028.0 1517.7,1026.4 1514.7,1022.8 1509.7,1023.4 1505.7,1027.4" stroke="#4279FF" stroke-width="16"/><path d="M1640.6,895.7 1647.0,900.1 1647.4,908.1 1646.0,916.2 1637.0,920.2 1631.0,924.2 1625.0,928.6 1619.9,935.2 1616.9,942.2 1616.5,949.2 1615.3,953.3 1609.9,954.7 1606.9,959.3 1608.9,963.3 1604.9,966.3 1606.5,971.3 1603.9,973.9 1598.9,974.3 1593.9,973.3 1587.3,976.3 1589.9,981.3 1594.5,986.3 1593.9,991.4 1588.9,996.4 1584.9,1001.4 1577.8,1008.4 1571.8,1009.4 1562.8,1014.4 1554.8,1019.4 1545.8,1024.4 1543.8,1023.4 1540.7,1027.4 1535.7,1028.4 1530.7,1023.4 1527.7,1024.4 1523.7,1028.0" stroke="#84AAFF" stroke-width="6"/></g>
<g fill="#0033E6" ><path d="M1300.0,615.0 1286.0,650.0 1276.5,677.5 1271.2,693.3 1257.2,700.4 1246.7,703.9 1239.6,710.9 1236.1,721.4 1239.6,733.7 1248.4,744.2 1253.7,753.0 1251.9,761.8 1250.2,772.3 1237.9,782.8 1225.6,788.1 1216.8,793.3 1217.7,798.6 1227.4,803.9 1236.1,809.1 1238.8,817.9 1237.9,831.9 1239.6,846.0 1236.1,858.2 1230.9,867.0 1226.5,877.5 1224.7,888.1 1229.1,900.4 1237.9,909.1 1250.2,916.1 1262.5,921.4 1274.7,926.7 1285.3,930.2 1310.0,938.4 1325.0,956.5 1337.1,971.5 1361.1,980.5 1390.0,977.5 1355.0,977.5 1370.1,980.5 1385.1,986.5 1397.1,998.6 1404.7,1010.6 1418.2,998.6 1427.2,965.5 1415.2,920.4 1420.0,800.0 1420.0,640.0 1340.0,590.0Z"/></g>
<g fill="#0033E6" stroke="#0033E6" stroke-width="40" stroke-linejoin="round"><path d="M1343.1,595.6 1352.0,592.6 1364.1,589.6 1373.1,580.6 1385.1,579.1 1400.2,580.6 1415.2,580.6 1427.2,586.6 1430.2,571.6 1439.2,580.6 1451.3,577.6 1460.3,595.6 1463.3,607.7 1475.3,610.7 1487.4,607.7 1496.4,598.6 1502.4,604.7 1508.4,613.7 1520.5,628.7 1532.5,625.7 1535.5,613.7 1544.5,622.7 1550.5,631.7 1562.6,637.7 1577.6,643.8 1586.6,655.8 1589.6,667.8 1598.6,679.8 1595.6,694.9 1586.6,706.9 1589.6,715.9 1595.6,722.0 1589.6,734.0 1592.6,746.0 1601.7,755.0 1610.7,767.1 1613.7,782.1 1619.7,797.1 1615.2,824.1 1613.7,842.2 1619.7,860.2 1610.7,872.3 1601.7,881.3 1595.6,896.3 1586.6,911.4 1583.6,926.4 1574.6,938.4 1562.6,953.5 1550.5,965.5 1544.5,980.5 1532.5,989.5 1514.4,994.1 1496.4,997.1 1475.3,1001.6 1466.3,1010.6 1460.3,1015.1 1451.3,1007.6 1442.3,995.6 1433.2,977.5 1427.2,962.5 1422.7,950.5 1418.2,938.4 1423.9,933.7 1422.1,923.2 1418.6,912.6 1411.6,896.8 1406.3,886.3 1399.3,875.8 1390.5,867.0 1387.0,860.0 1385.3,849.5 1380.0,847.7 1373.0,856.5 1366.0,860.0 1362.5,867.0 1358.9,856.5 1360.7,846.0 1362.5,826.7 1362.5,814.4 1366.0,803.9 1357.2,812.6 1350.2,817.9 1344.9,812.6 1336.1,814.4 1332.6,810.9 1336.1,805.6 1339.6,798.6 1337.9,789.8 1334.4,782.8 1323.9,779.3 1329.1,775.8 1334.4,774.0 1332.6,767.0 1325.6,763.5 1320.4,754.7 1322.1,747.7 1320.4,737.2 1323.9,730.2 1322.1,721.4 1327.4,716.1 1336.1,712.6 1339.6,705.6 1337.9,695.1 1332.6,689.8 1323.9,688.1 1318.6,682.8 1320.4,670.5 1323.9,660.0 1326.0,640.0 1324.0,625.0 1331.0,611.0Z"/></g>
<g fill="#001FBF" ><path d="M1335.0,585.0 1318.0,595.0 1305.0,615.0 1300.0,640.0 1283.5,660.0 1281.8,670.5 1278.2,691.6 1264.2,698.6 1255.4,703.9 1253.7,712.6 1257.2,719.6 1262.5,726.7 1258.9,733.7 1260.7,740.7 1267.7,747.7 1264.2,754.7 1267.7,761.8 1269.5,772.3 1255.4,786.3 1237.9,789.8 1223.9,791.6 1221.2,796.8 1227.4,800.4 1237.9,803.9 1243.2,810.9 1241.4,821.4 1246.7,835.4 1250.2,846.0 1246.7,856.5 1239.6,865.3 1232.6,874.0 1230.9,886.3 1232.6,895.1 1237.9,903.9 1250.2,910.9 1260.7,914.4 1271.2,917.9 1285.3,914.4 1299.3,912.6 1309.8,917.9 1320.4,919.6 1329.1,924.9 1341.4,930.2 1355.4,933.7 1373.0,937.2 1390.5,940.0 1391.1,944.4 1403.2,965.5 1412.2,986.5 1421.2,980.5 1424.2,950.5 1415.2,905.3 1420.0,800.0 1420.0,600.0Z"/></g>
<g fill="#001FBF" stroke="#001FBF" stroke-width="26" stroke-linejoin="round"><path d="M1343.1,595.6 1352.0,592.6 1364.1,589.6 1373.1,580.6 1385.1,579.1 1400.2,580.6 1415.2,580.6 1427.2,586.6 1430.2,571.6 1439.2,580.6 1451.3,577.6 1460.3,595.6 1463.3,607.7 1475.3,610.7 1487.4,607.7 1496.4,598.6 1502.4,604.7 1508.4,613.7 1520.5,628.7 1532.5,625.7 1535.5,613.7 1544.5,622.7 1550.5,631.7 1562.6,637.7 1577.6,643.8 1586.6,655.8 1589.6,667.8 1598.6,679.8 1595.6,694.9 1586.6,706.9 1589.6,715.9 1595.6,722.0 1589.6,734.0 1592.6,746.0 1601.7,755.0 1610.7,767.1 1613.7,782.1 1619.7,797.1 1615.2,824.1 1613.7,842.2 1619.7,860.2 1610.7,872.3 1601.7,881.3 1595.6,896.3 1586.6,911.4 1583.6,926.4 1574.6,938.4 1562.6,953.5 1550.5,965.5 1544.5,980.5 1532.5,989.5 1514.4,994.1 1496.4,997.1 1475.3,1001.6 1466.3,1010.6 1460.3,1015.1 1451.3,1007.6 1442.3,995.6 1433.2,977.5 1427.2,962.5 1422.7,950.5 1418.2,938.4 1423.9,933.7 1422.1,923.2 1418.6,912.6 1411.6,896.8 1406.3,886.3 1399.3,875.8 1390.5,867.0 1387.0,860.0 1385.3,849.5 1380.0,847.7 1373.0,856.5 1366.0,860.0 1362.5,867.0 1358.9,856.5 1360.7,846.0 1362.5,826.7 1362.5,814.4 1366.0,803.9 1357.2,812.6 1350.2,817.9 1344.9,812.6 1336.1,814.4 1332.6,810.9 1336.1,805.6 1339.6,798.6 1337.9,789.8 1334.4,782.8 1323.9,779.3 1329.1,775.8 1334.4,774.0 1332.6,767.0 1325.6,763.5 1320.4,754.7 1322.1,747.7 1320.4,737.2 1323.9,730.2 1322.1,721.4 1327.4,716.1 1336.1,712.6 1339.6,705.6 1337.9,695.1 1332.6,689.8 1323.9,688.1 1318.6,682.8 1320.4,670.5 1323.9,660.0 1326.0,640.0 1324.0,625.0 1331.0,611.0Z"/></g>
<g fill="#0033E6" ><path d="M1302.8,703.9 1309.8,705.6 1316.8,710.9 1318.6,716.1 1313.3,717.9 1306.3,714.4 1300.2,709.1Z"/><path d="M1249.3,788.9 1285.3,791.6 1316.8,789.8 1320.4,793.3 1313.3,796.8 1285.3,795.1 1250.2,795.1Z"/><path d="M1306.3,814.4 1313.3,800.4 1322.1,798.6 1327.4,800.4 1323.9,810.9 1320.4,817.9 1316.8,824.9 1309.8,823.2 1304.6,817.9Z"/><path d="M1327.4,823.2 1334.4,820.5 1340.5,823.2 1339.6,831.9 1334.4,835.4 1329.1,833.7Z"/><path d="M1346.7,828.4 1353.7,825.8 1358.1,831.9 1357.2,842.5 1351.9,844.2 1347.5,838.9Z"/><path d="M1367.7,861.8 1374.7,858.2 1381.8,856.5 1385.3,863.5 1383.5,870.5 1374.7,868.8Z"/><path d="M1278.2,719.6 1288.8,726.7 1302.8,737.2 1313.3,740.7 1311.6,735.4 1301.1,728.4 1288.8,719.6Z"/></g>
<g fill="#1A53FF" ><path d="M1330.9,824.9 1336.1,823.2 1337.9,828.4 1334.4,832.8 1330.9,831.1Z"/><path d="M1349.3,831.9 1353.7,829.3 1356.3,835.4 1353.7,841.6 1350.2,838.9Z"/></g>
<g fill="#00008B" ><path d="M1343.1,595.6 1352.0,592.6 1364.1,589.6 1373.1,580.6 1385.1,579.1 1400.2,580.6 1415.2,580.6 1427.2,586.6 1430.2,571.6 1439.2,580.6 1451.3,577.6 1460.3,595.6 1463.3,607.7 1475.3,610.7 1487.4,607.7 1496.4,598.6 1502.4,604.7 1508.4,613.7 1520.5,628.7 1532.5,625.7 1535.5,613.7 1544.5,622.7 1550.5,631.7 1562.6,637.7 1577.6,643.8 1586.6,655.8 1589.6,667.8 1598.6,679.8 1595.6,694.9 1586.6,706.9 1589.6,715.9 1595.6,722.0 1589.6,734.0 1592.6,746.0 1601.7,755.0 1610.7,767.1 1613.7,782.1 1619.7,797.1 1615.2,824.1 1613.7,842.2 1619.7,860.2 1610.7,872.3 1601.7,881.3 1595.6,896.3 1586.6,911.4 1583.6,926.4 1574.6,938.4 1562.6,953.5 1550.5,965.5 1544.5,980.5 1532.5,989.5 1514.4,994.1 1496.4,997.1 1475.3,1001.6 1466.3,1010.6 1460.3,1015.1 1451.3,1007.6 1442.3,995.6 1433.2,977.5 1427.2,962.5 1422.7,950.5 1418.2,938.4 1423.9,933.7 1422.1,923.2 1418.6,912.6 1411.6,896.8 1406.3,886.3 1399.3,875.8 1390.5,867.0 1387.0,860.0 1385.3,849.5 1380.0,847.7 1373.0,856.5 1366.0,860.0 1362.5,867.0 1358.9,856.5 1360.7,846.0 1362.5,826.7 1362.5,814.4 1366.0,803.9 1357.2,812.6 1350.2,817.9 1344.9,812.6 1336.1,814.4 1332.6,810.9 1336.1,805.6 1339.6,798.6 1337.9,789.8 1334.4,782.8 1323.9,779.3 1329.1,775.8 1334.4,774.0 1332.6,767.0 1325.6,763.5 1320.4,754.7 1322.1,747.7 1320.4,737.2 1323.9,730.2 1322.1,721.4 1327.4,716.1 1336.1,712.6 1339.6,705.6 1337.9,695.1 1332.6,689.8 1323.9,688.1 1318.6,682.8 1320.4,670.5 1323.9,660.0 1326.0,640.0 1324.0,625.0 1331.0,611.0Z"/><path d="M1250.2,807.4 1257.2,803.9 1267.7,804.7 1273.0,809.1 1269.5,817.9 1273.0,824.9 1281.8,828.4 1288.8,833.7 1299.3,835.4 1309.8,838.9 1318.6,842.5 1327.4,847.7 1334.4,851.2 1337.9,856.5 1337.9,870.5 1344.9,875.8 1355.4,879.3 1360.7,886.3 1369.5,895.1 1371.2,905.6 1366.0,914.4 1360.7,919.6 1351.9,914.4 1344.9,912.6 1336.1,916.1 1327.4,912.6 1316.8,912.6 1309.8,909.1 1302.8,905.6 1292.3,905.6 1278.2,909.1 1269.5,912.6 1262.5,905.6 1255.4,903.9 1246.7,902.1 1237.9,893.3 1234.4,884.6 1236.1,874.0 1243.2,863.5 1250.2,856.5 1253.7,846.0 1250.2,835.4 1248.4,824.9 1248.4,814.4Z"/><path d="M1285.3,740.7 1295.8,742.5 1306.3,747.7 1316.8,751.2 1320.4,754.7 1316.8,744.2 1308.1,742.5 1299.3,737.2 1288.8,737.2Z"/><path d="M1269.5,763.5 1281.8,763.5 1294.0,765.3 1302.8,768.8 1301.1,772.3 1290.5,772.3 1278.2,768.8 1271.2,766.1Z"/></g>
<g fill="#B3CCFF" ><path d="M1134.5,760.0 1133.1,771.0 1122.1,777.9 1120.7,787.6 1122.1,800.0 1120.7,809.6 1112.4,815.1 1112.4,826.2 1115.2,837.2 1120.7,841.3 1131.7,848.2 1138.6,850.3 1145.5,844.1 1148.2,837.2 1157.9,834.4 1166.2,828.9 1177.2,824.8 1182.7,819.3 1174.4,815.1 1168.9,801.4 1171.7,787.6 1175.8,773.8 1174.4,760.0 1174.4,751.7 1134.5,751.7Z"/><path d="M1152.3,685.3 1162.8,692.3 1173.3,702.8 1180.4,713.3 1185.6,729.1 1180.4,744.9 1178.6,758.9 1180.4,771.2 1159.3,771.2 1138.2,771.2 1134.7,755.4 1127.7,751.1 1113.7,749.3 1102.3,751.9 1101.4,737.9 1110.2,730.9 1122.5,722.1 1134.7,718.6 1145.3,702.8Z"/><path d="M1182.7,837.2 1174.4,848.2 1166.2,859.2 1163.4,870.3 1163.4,884.1 1166.2,897.8 1171.7,911.6 1177.2,922.7 1185.5,932.3 1196.5,942.0 1210.3,948.8 1224.1,953.0 1237.8,955.7 1250.3,954.4 1261.3,950.2 1259.9,943.3 1270.9,940.6 1265.4,936.4 1258.5,929.5 1248.9,919.9 1237.8,908.9 1228.2,897.8 1217.2,888.2 1210.3,881.3 1211.7,874.4 1210.3,862.0 1207.5,851.0 1202.0,840.0 1202.0,828.9 1196.5,824.8 1188.2,826.2Z"/></g>
<g fill="#84AAFF" ><path d="M1102.3,751.9 1113.7,749.3 1127.7,751.1 1135.6,757.2 1133.0,771.2 1122.5,778.2 1121.6,790.5 1122.5,806.3 1115.4,810.7 1106.7,806.3 1100.5,792.3 1098.8,780.0 1104.0,769.5 1101.4,760.7Z"/><path d="M1106.7,648.4 1110.2,639.6 1117.2,638.8 1127.7,644.9 1138.2,651.9 1148.8,658.9 1161.1,666.0 1169.8,673.0 1173.3,685.3 1180.4,699.3 1173.3,701.1 1162.8,692.3 1152.3,685.3 1138.2,678.2 1124.2,674.7 1113.7,662.5Z"/><path d="M1340.0,514.4 1364.1,512.9 1394.1,514.4 1415.2,518.9 1421.2,526.5 1412.2,532.5 1394.1,535.5 1370.1,540.0 1349.0,547.5 1340.0,550.5 1379.2,550.5 1373.2,532.5 1379.2,517.4Z"/></g>
<g fill="#D6EBFF" ><path d="M1162.8,713.3 1178.6,720.4 1185.6,730.9 1180.4,744.9 1178.6,758.9 1180.4,769.5 1175.1,780.0 1171.6,790.5 1166.3,801.1 1159.3,808.1 1148.8,815.1 1138.2,822.1 1131.2,825.6 1129.5,820.4 1138.2,813.3 1145.3,804.6 1152.3,790.5 1154.0,773.0 1155.8,755.4 1152.3,746.7 1161.1,737.9 1166.3,727.4Z"/><path d="M1141.4,760.0 1135.8,773.8 1134.5,787.6 1133.1,801.4 1131.7,815.1 1130.3,822.0 1140.0,827.5 1145.5,815.1 1151.0,801.4 1155.1,787.6 1152.4,773.8 1153.8,760.0 1153.8,754.5 1141.4,754.5Z"/><path d="M1156.5,754.5 1174.4,754.5 1174.4,760.0 1173.1,773.8 1168.9,787.6 1164.8,805.5 1157.9,813.8 1152.4,812.4 1155.1,787.6 1155.8,773.8Z"/><path d="M1186.8,910.3 1199.2,908.9 1199.9,914.4 1197.9,921.3 1189.6,919.9 1187.5,915.8Z"/><path d="M1217.2,925.4 1221.3,917.1 1226.8,914.4 1232.3,917.1 1229.6,922.7 1228.2,929.5 1226.8,936.4 1221.3,933.7 1217.2,930.9Z"/><path d="M1615.2,592.6 1625.7,595.6 1636.2,607.7 1636.2,616.7 1628.7,624.2 1619.7,622.7 1621.2,607.7Z"/></g>
<g fill="#FFEBD9" ><path d="M1156.7,772.1 1168.9,772.1 1169.8,778.2 1165.4,784.4 1157.5,785.3Z"/></g>
<g fill="#D6EBFF" ><path d="M1064.6,609.8 1057.5,622.1 1050.5,632.6 1047.9,650.2 1048.8,664.2 1054.9,678.2 1066.3,692.3 1080.4,706.3 1096.1,720.4 1110.2,729.1 1122.5,730.9 1138.2,725.6 1152.3,720.4 1166.3,713.3 1169.8,702.8 1162.8,695.8 1148.8,688.8 1131.2,678.2 1113.7,671.2 1099.6,657.2 1090.9,637.9 1083.9,622.1 1075.1,611.6Z"/></g>
<g fill="#FFEBD9" ><path d="M1066.3,614.2 1061.4,625.6 1064.6,639.6 1071.6,655.4 1080.4,671.2 1089.1,685.3 1097.9,699.3 1106.7,709.8 1115.4,718.6 1124.2,720.4 1134.7,718.6 1145.3,713.3 1155.8,708.1 1161.1,702.8 1152.3,695.8 1138.2,687.0 1122.5,678.2 1110.2,674.7 1097.9,658.9 1089.1,639.6 1080.4,625.6 1073.3,616.8Z"/></g>
<g fill="#FFCCB3" ><path d="M1064.9,629.1 1075.2,624.7 1084.0,633.5 1091.4,645.2 1098.7,657.0 1107.5,671.7 1113.4,684.9 1120.7,701.1 1128.1,707.0 1126.6,715.8 1113.4,714.3 1103.1,704.0 1094.3,689.3 1085.5,674.6 1076.7,659.9 1069.3,645.2 1064.9,636.4Z"/></g>
<g fill="#FFAA84" ><path d="M1070.8,633.5 1079.6,630.5 1088.4,642.3 1095.8,655.5 1103.1,668.8 1110.5,684.9 1110.5,699.6 1114.9,707.0 1106.1,707.0 1098.7,692.3 1091.4,680.5 1082.5,667.3 1075.2,654.1 1070.8,642.3Z"/></g>
<g fill="#FF7942" ><path d="M1073.7,637.9 1081.1,635.0 1087.7,645.2 1093.6,657.0 1100.2,670.2 1104.6,683.4 1098.7,684.9 1091.4,674.6 1084.0,662.9 1077.4,651.1 1073.7,643.8Z"/></g>
<g fill="#FF531A" ><path d="M1075.9,642.3 1081.1,639.4 1085.5,648.2 1091.4,659.9 1097.2,671.7 1100.2,682.0 1095.8,680.5 1088.4,668.8 1081.1,657.0 1076.7,648.2Z"/></g>
<g fill="#E63300" ><path d="M1079.6,649.6 1083.3,648.2 1089.1,659.9 1094.3,670.2 1091.4,669.5 1085.5,659.9Z"/></g>
<g fill="#84AAFF" ><path d="M956.9,608.5 963.5,602.6 970.1,594.5 970.8,599.7 969.4,608.5 965.0,615.8 959.1,621.7 954.7,621.7 951.7,615.8Z"/></g>
<g fill="#FFEBD9" ><path d="M938.6,640.8 949.1,628.7 964.1,622.7 982.2,619.7 994.2,628.7 998.7,646.8 1000.2,670.8 1000.2,700.9 995.7,731.0 988.2,761.1 979.2,782.1 964.1,794.1 946.1,800.2 934.1,794.1 928.0,773.1 922.0,731.0 916.0,670.8 916.0,625.7Z"/><path d="M1234.8,1219.6 1243.8,1212.1 1255.9,1200.1 1276.9,1191.1 1301.0,1182.0 1325.0,1173.0 1346.1,1164.0 1367.1,1153.5 1379.2,1150.5 1355.0,1159.5 1370.1,1151.4 1394.1,1149.5 1418.2,1152.0 1442.3,1159.5 1460.3,1167.0 1472.3,1179.0 1484.4,1189.5 1493.4,1197.1 1508.4,1198.6 1532.5,1197.1 1562.6,1194.1 1580.6,1221.1 1460.3,1281.3 1219.7,1281.3Z"/><path d="M928.0,770.0 931.1,785.0 935.6,798.6 946.1,800.1 964.1,791.1 979.2,779.0 985.2,770.0 982.2,752.0 940.1,745.9Z"/><path d="M946.1,821.1 955.1,827.1 962.6,839.2 958.1,857.2 952.1,866.2 946.1,851.2 943.1,833.2Z"/><path d="M1005.6,1031.7 1013.8,1030.2 1015.3,1046.7 1007.7,1040.7Z"/></g>
<g fill="#FFCCB3" ><path d="M928.0,640.8 946.1,633.2 964.1,631.7 979.2,637.7 982.2,649.8 970.2,661.8 955.1,673.8 940.1,679.8 928.0,685.9 916.0,670.8Z"/></g>
<g fill="#FFAA84" ><path d="M935.6,674.6 948.8,665.8 959.1,658.5 968.6,648.2 966.4,640.1 960.6,635.0 953.2,633.5 946.6,642.3 940.0,654.1Z"/></g>
<g fill="#FF7942" ><path d="M938.5,667.3 950.3,659.9 959.1,652.6 963.5,646.7 959.1,640.8 951.7,640.1 945.1,648.2 940.7,657.0Z"/></g>
<g fill="#FF531A" ><path d="M940.0,662.9 948.8,657.0 956.1,651.1 958.4,647.4 954.7,643.8 948.8,644.5 944.4,651.1 941.5,657.0Z"/></g>
<g fill="#E63300" ><path d="M942.2,657.0 948.1,653.3 952.5,648.9 950.3,646.7 945.9,650.4 942.9,654.1Z"/></g>
<path d="M1084.8,609.8 1088.4,610.2 1087.6,614.2 1094.8,619.8 1090.4,624.2 1088.8,628.6 1090.4,638.3 1094.8,648.3 1102.5,658.3 1105.5,666.3 1109.5,674.4 1116.5,678.8 1124.5,679.4 1128.9,674.8 1134.5,673.4 1146.6,676.0 1156.6,679.4 1162.6,680.0 1167.6,685.4 1175.6,687.4 1182.7,688.4 1185.7,693.4 1191.7,696.4 1197.7,700.4 1201.7,706.4 1202.7,710.1 1208.7,715.5 1212.7,722.5 1217.1,731.5 1221.7,722.5 1225.8,714.5 1231.8,708.4 1242.8,704.8 1252.8,702.0 1262.9,698.4 1270.9,692.4 1277.9,684.4 1280.5,674.4 1280.9,668.3 1283.9,654.3 1287.3,640.3 1288.5,630.3 1291.9,625.8 1289.9,620.2 1293.9,610.2 1300.9,598.2 1307.0,590.2 1315.0,584.1 1321.4,578.1 1322.6,570.1 1318.6,567.1 1321.4,563.1 1327.0,560.1 1332.6,568.1 1336.0,564.1 1335.0,557.1 1341.0,555.1 1345.1,561.1 1355.1,560.1 1357.1,552.1 1355.1,548.0 1362.3,549.0 1362.3,550.1 1363.3,554.1 1362.3,559.1 1366.3,562.1 1374.3,557.1 1381.3,551.1 1387.4,548.4 1393.4,549.0 1398.4,546.0 1408.4,549.0 1420.4,550.1 1430.5,554.1 1442.5,557.1 1452.5,563.1 1461.5,570.1 1468.6,570.5 1472.2,569.1 1477.6,571.7 1485.6,572.5 1494.6,575.1 1502.7,576.1 1507.7,579.7 1511.7,572.1 1516.7,571.7 1517.7,582.1 1520.7,589.1 1524.7,594.2 1521.7,599.2 1529.7,597.2 1535.7,590.6 1542.8,591.2 1549.8,590.2 1556.8,591.2 1564.8,597.2 1571.8,602.2 1574.8,606.6 1578.8,606.6 1578.8,614.2 1582.9,613.8 1587.9,608.2 1593.9,606.2 1599.9,607.2 1605.9,607.8 1611.9,614.2 1614.9,621.2 1613.9,628.2 1615.9,633.3 1610.9,635.3 1608.9,632.3 1609.9,642.3 1608.9,649.3 1613.9,655.3 1613.9,662.3 1616.9,667.3 1619.9,670.4 1621.9,678.4 1623.0,686.4 1625.4,693.4 1629.0,696.0 1623.0,698.4 1613.9,706.0 1611.5,702.4 1604.9,706.4 1599.9,708.4 1596.5,712.9 1598.5,717.5 1601.9,712.9 1607.9,717.5 1611.9,721.5 1610.9,729.5 1616.9,732.5 1623.0,739.5 1631.0,739.5 1635.0,742.5 1641.0,751.6 1648.0,756.6 1653.0,766.6 1658.6,780.6 1658.6,792.7 1661.0,803.7 1659.4,810.7 1660.6,818.7 1657.4,826.7 1659.0,830.8 1657.0,836.8 1658.0,842.8 1657.0,850.0 1657.0,850.0 1661.0,854.0 1663.1,861.0 1659.0,869.0 1653.0,876.1 1647.0,882.1 1640.6,888.5 1644.0,892.1 1640.6,895.7 1647.0,900.1 1647.4,908.1 1646.0,916.2 1637.0,920.2 1631.0,924.2 1625.0,928.6 1619.9,935.2 1616.9,942.2 1616.5,949.2 1615.3,953.3 1609.9,954.7 1606.9,959.3 1608.9,963.3 1604.9,966.3 1606.5,971.3 1603.9,973.9 1598.9,974.3 1593.9,973.3 1587.3,976.3 1589.9,981.3 1594.5,986.3 1593.9,991.4 1588.9,996.4 1584.9,1001.4 1577.8,1008.4 1571.8,1009.4 1562.8,1014.4 1554.8,1019.4 1545.8,1024.4 1543.8,1023.4 1540.7,1027.4 1535.7,1028.4 1530.7,1023.4 1527.7,1024.4 1523.7,1028.0 1517.7,1026.4 1514.7,1022.8 1509.7,1023.4 1505.7,1027.4 1499.6,1028.4 1497.6,1031.5 1494.2,1029.4 1490.6,1032.5 1482.6,1036.5 1476.2,1032.1 1471.6,1030.9 1471.6,1035.5 1466.6,1036.5 1458.5,1036.5 1449.5,1034.5 1446.5,1026.4 1442.1,1021.4 1440.9,1025.4 1442.1,1030.5 1437.5,1032.9 1437.5,1026.0 1431.5,1028.0 1425.5,1030.5 1416.4,1026.4 1406.8,1021.4 1406.0,1026.0 1401.4,1019.4 1404.4,1015.4 1402.0,1009.4 1404.8,1002.8 1408.8,998.8 1413.4,997.4 1412.4,992.0 1412.0,987.3 1416.0,985.9 1416.4,980.3 1420.4,971.3 1419.4,964.3 1415.4,955.3 1409.4,941.2 1400.4,933.8 1407.4,930.2 1411.4,925.8 1412.4,920.2 1408.4,910.2 1404.4,900.1 1399.4,892.1 1392.4,884.1 1384.4,877.1 1378.3,873.7 1372.3,874.5 1367.3,871.1 1364.3,865.0 1362.3,863.6 1362.3,861.0 1352.1,856.0 1349.1,850.0 1349.1,850.0 1349.1,845.8 1339.0,841.2 1331.0,843.8 1332.0,850.0 1332.0,850.0 1333.0,858.0 1329.0,868.0 1325.0,878.1 1321.0,888.1 1316.0,891.1 1309.0,889.1 1301.9,888.5 1304.0,898.1 1307.0,908.1 1310.0,917.2 1312.6,925.8 1307.0,927.2 1304.0,925.2 1309.0,932.2 1309.4,940.2 1305.0,942.6 1299.9,939.2 1296.9,934.2 1293.9,928.2 1287.9,924.6 1280.9,925.2 1275.9,928.2 1272.5,934.2 1270.9,940.2 1262.9,936.6 1255.8,935.2 1252.8,931.8 1250.8,932.6 1242.8,930.6 1233.8,929.8 1228.8,924.2 1228.4,914.2 1229.2,904.1 1226.8,899.1 1218.7,902.5 1210.7,904.5 1202.7,904.5 1195.7,907.1 1191.7,909.7 1189.7,905.1 1192.7,899.1 1193.1,894.1 1188.7,895.1 1187.7,890.1 1185.1,886.1 1188.7,883.1 1194.7,882.1 1198.7,878.1 1200.7,873.1 1197.7,867.0 1192.7,865.0 1186.7,867.0 1180.6,870.1 1177.0,869.0 1180.6,865.0 1186.7,862.0 1190.7,858.0 1188.7,855.0 1182.7,857.0 1178.6,859.0 1176.6,856.0 1181.6,853.0 1188.7,852.0 1191.7,850.0 1189.7,850.0 1188.7,846.8 1185.7,841.8 1180.6,840.8 1179.6,832.8 1180.6,825.7 1173.6,826.7 1170.6,830.8 1162.6,834.8 1156.6,839.8 1160.6,834.8 1162.6,828.7 1158.6,822.7 1164.2,820.7 1164.6,815.7 1156.6,815.7 1151.6,822.7 1147.6,830.8 1144.6,836.8 1142.1,832.8 1143.6,826.7 1141.5,823.7 1142.6,816.7 1146.6,815.7 1148.6,810.7 1151.6,800.7 1153.0,788.6 1155.6,776.6 1154.6,768.6 1157.6,756.6 1162.0,752.2 1155.6,752.6 1152.2,747.5 1157.6,740.5 1162.6,736.5 1168.2,738.5 1168.6,730.5 1169.6,716.5 1164.6,708.4 1154.6,704.0 1138.5,702.4 1128.9,700.4 1128.9,696.4 1125.5,690.4 1119.5,690.4 1111.5,685.4 1104.9,686.4 1106.1,694.8 1101.4,694.4 1097.4,690.4 1096.4,683.4 1102.5,679.4 1097.4,673.4 1092.8,668.3 1089.4,658.3 1084.4,650.3 1081.4,642.3 1080.4,636.3 1081.4,626.2 1083.4,618.2 1084.8,609.8Z M1116.9,704.8 1136.5,706.4 1156.6,706.4 1162.6,711.5 1162.6,722.5 1158.6,728.5 1153.6,730.5 1149.6,734.5 1140.5,739.5 1136.5,736.5 1139.5,726.5 1140.1,714.5 1136.5,712.5 1119.5,711.5Z M1122.5,723.5 1128.9,722.9 1132.1,727.5 1130.5,735.5 1125.5,733.5Z M1084.4,601.8 1092.4,601.2 1090.4,607.2 1084.8,607.2Z M1393.4,947.8 1397.4,943.8 1403.4,943.8 1404.0,950.3 1399.4,949.2Z M1274.9,937.2 1281.9,935.8 1282.9,939.2 1275.9,940.6Z M1326.0,909.1 1330.0,908.1 1331.0,916.2 1328.0,928.2 1323.0,927.2 1322.0,918.2Z M1075.4,642.3 1085.4,642.3 1083.4,655.3 1078.4,655.3Z" fill="none" stroke="#000" stroke-width="3.5" stroke-linejoin="round"/>
<path d="M1067.4,604.2 1068.8,610.2 1068.0,622.2 1066.0,627.2 1064.0,624.2 1063.4,610.2Z M1095.4,533.0 1104.5,531.0 1102.5,535.0 1097.4,538.0Z" fill="#000" stroke="#000" stroke-width="1.5" stroke-linejoin="round"/>
<path d="M957.1,614.5 960.1,629.6 954.7,634.1 957.7,638.7 950.1,641.7 951.0,646.2 944.1,650.2" fill="none" stroke="#000" stroke-width="3.5" stroke-linejoin="round"/>
</g>
<circle cx="1366.3" cy="794.3" r="447.3" fill="none" stroke="#000" stroke-width="2.2"/>
<clipPath id="cl2"><circle cx="910.2" cy="2239.1" r="447.4"/></clipPath>
<clipPath id="coastclip2"><path d="M628.6,2054.6 632.3,2055.0 631.5,2059.0 638.7,2064.6 634.3,2069.0 632.7,2073.4 634.3,2083.0 638.7,2093.1 646.3,2103.1 649.3,2111.1 653.3,2119.1 660.3,2123.5 668.4,2124.1 672.8,2119.5 678.4,2118.1 690.4,2120.7 700.4,2124.1 706.5,2124.7 711.5,2130.2 719.5,2132.2 726.5,2133.2 729.5,2138.2 735.5,2141.2 741.6,2145.2 745.6,2151.2 746.6,2154.8 752.6,2160.2 756.6,2167.3 761.0,2176.3 765.6,2167.3 769.6,2159.2 775.6,2153.2 786.7,2149.6 796.7,2146.8 806.7,2143.2 814.8,2137.2 821.8,2129.2 824.4,2119.1 824.8,2113.1 827.8,2099.1 831.2,2085.0 832.4,2075.0 835.8,2070.6 833.8,2065.0 837.8,2055.0 844.8,2042.9 850.8,2034.9 858.9,2028.9 865.3,2022.9 866.5,2014.9 862.5,2011.8 865.3,2007.8 870.9,2004.8 876.5,2012.8 879.9,2008.8 878.9,2001.8 884.9,1999.8 889.0,2005.8 899.0,2004.8 901.0,1996.8 899.0,1992.8 906.2,1993.8 906.2,1994.8 907.2,1998.8 906.2,2003.8 910.2,2006.8 918.2,2001.8 925.3,1995.8 931.3,1993.2 937.3,1993.8 942.3,1990.8 952.3,1993.8 964.4,1994.8 974.4,1998.8 986.4,2001.8 996.4,2007.8 1005.5,2014.9 1012.5,2015.3 1016.1,2013.8 1021.5,2016.5 1029.5,2017.3 1038.6,2019.9 1046.6,2020.9 1051.6,2024.5 1055.6,2016.9 1060.6,2016.5 1061.6,2026.9 1064.6,2033.9 1068.6,2038.9 1065.6,2043.9 1073.7,2041.9 1079.7,2035.3 1086.7,2035.9 1093.7,2034.9 1100.7,2035.9 1108.8,2041.9 1115.8,2046.9 1118.8,2051.3 1122.8,2051.3 1122.8,2059.0 1126.8,2058.6 1131.8,2053.0 1137.8,2050.9 1143.8,2052.0 1149.9,2052.6 1155.9,2059.0 1158.9,2066.0 1157.9,2073.0 1159.9,2078.0 1154.9,2080.0 1152.9,2077.0 1153.9,2087.0 1152.9,2094.1 1157.9,2100.1 1157.9,2107.1 1160.9,2112.1 1163.9,2115.1 1165.9,2123.1 1166.9,2131.2 1169.3,2138.2 1172.9,2140.8 1166.9,2143.2 1157.9,2150.8 1155.5,2147.2 1148.9,2151.2 1143.8,2153.2 1140.4,2157.6 1142.4,2162.3 1145.9,2157.6 1151.9,2162.3 1155.9,2166.3 1154.9,2174.3 1160.9,2177.3 1166.9,2184.3 1174.9,2184.3 1178.9,2187.3 1185.0,2196.3 1192.0,2201.4 1197.0,2211.4 1202.6,2225.4 1202.6,2237.5 1205.0,2248.5 1203.4,2255.5 1204.6,2263.5 1201.4,2271.5 1203.0,2275.6 1201.0,2281.6 1202.0,2287.6 1201.0,2294.8 1201.0,2294.8 1205.0,2298.8 1207.0,2305.8 1203.0,2313.9 1197.0,2320.9 1191.0,2326.9 1184.6,2333.3 1188.0,2336.9 1184.6,2340.5 1191.0,2344.9 1191.4,2353.0 1190.0,2361.0 1180.9,2365.0 1174.9,2369.0 1168.9,2373.4 1163.9,2380.0 1160.9,2387.1 1160.5,2394.1 1159.3,2398.1 1153.9,2399.5 1150.9,2404.1 1152.9,2408.1 1148.9,2411.1 1150.5,2416.1 1147.9,2418.7 1142.8,2419.2 1137.8,2418.1 1131.2,2421.2 1133.8,2426.2 1138.4,2431.2 1137.8,2436.2 1132.8,2441.2 1128.8,2446.2 1121.8,2453.2 1115.8,2454.2 1106.7,2459.3 1098.7,2464.3 1089.7,2469.3 1087.7,2468.3 1084.7,2472.3 1079.7,2473.3 1074.7,2468.3 1071.6,2469.3 1067.6,2472.9 1061.6,2471.3 1058.6,2467.7 1053.6,2468.3 1049.6,2472.3 1043.6,2473.3 1041.6,2476.3 1038.2,2474.3 1034.5,2477.3 1026.5,2481.3 1020.1,2476.9 1015.5,2475.7 1015.5,2480.3 1010.5,2481.3 1002.5,2481.3 993.4,2479.3 990.4,2471.3 986.0,2466.3 984.8,2470.3 986.0,2475.3 981.4,2477.7 981.4,2470.9 975.4,2472.9 969.4,2475.3 960.3,2471.3 950.7,2466.3 949.9,2470.9 945.3,2464.3 948.3,2460.3 945.9,2454.2 948.7,2447.6 952.7,2443.6 957.3,2442.2 956.3,2436.8 955.9,2432.2 959.9,2430.8 960.3,2425.2 964.4,2416.1 963.4,2409.1 959.3,2400.1 953.3,2386.1 944.3,2378.6 951.3,2375.0 955.3,2370.6 956.3,2365.0 952.3,2355.0 948.3,2344.9 943.3,2336.9 936.3,2328.9 928.3,2321.9 922.2,2318.5 916.2,2319.3 911.2,2315.9 908.2,2309.9 906.2,2308.4 906.2,2305.8 896.0,2300.8 893.0,2294.8 893.0,2294.8 893.0,2290.6 882.9,2286.0 874.9,2288.6 875.9,2294.8 875.9,2294.8 876.9,2302.8 872.9,2312.9 868.9,2322.9 864.9,2332.9 859.9,2335.9 852.9,2333.9 845.8,2333.3 847.8,2342.9 850.8,2353.0 853.9,2362.0 856.5,2370.6 850.8,2372.0 847.8,2370.0 852.9,2377.0 853.3,2385.1 848.8,2387.5 843.8,2384.1 840.8,2379.0 837.8,2373.0 831.8,2369.4 824.8,2370.0 819.8,2373.0 816.4,2379.0 814.8,2385.1 806.7,2381.4 799.7,2380.0 796.7,2376.6 794.7,2377.4 786.7,2375.4 777.6,2374.6 772.6,2369.0 772.2,2359.0 773.0,2349.0 770.6,2343.9 762.6,2347.4 754.6,2349.4 746.6,2349.4 739.5,2352.0 735.5,2354.6 733.5,2350.0 736.5,2343.9 736.9,2338.9 732.5,2339.9 731.5,2334.9 728.9,2330.9 732.5,2327.9 738.5,2326.9 742.6,2322.9 744.6,2317.9 741.6,2311.9 736.5,2309.9 730.5,2311.9 724.5,2314.9 720.9,2313.9 724.5,2309.9 730.5,2306.8 734.5,2302.8 732.5,2299.8 726.5,2301.8 722.5,2303.8 720.5,2300.8 725.5,2297.8 732.5,2296.8 735.5,2294.8 733.5,2294.8 732.5,2291.6 729.5,2286.6 724.5,2285.6 723.5,2277.6 724.5,2270.5 717.5,2271.5 714.5,2275.6 706.5,2279.6 700.4,2284.6 704.4,2279.6 706.5,2273.6 702.4,2267.5 708.1,2265.5 708.5,2260.5 700.4,2260.5 695.4,2267.5 691.4,2275.6 688.4,2281.6 686.0,2277.6 687.4,2271.5 685.4,2268.5 686.4,2261.5 690.4,2260.5 692.4,2255.5 695.4,2245.5 696.8,2233.4 699.4,2221.4 698.4,2213.4 701.4,2201.4 705.9,2196.9 699.4,2197.3 696.0,2192.3 701.4,2185.3 706.5,2181.3 712.1,2183.3 712.5,2175.3 713.5,2161.2 708.5,2153.2 698.4,2148.8 682.4,2147.2 672.8,2145.2 672.8,2141.2 669.4,2135.2 663.3,2135.2 655.3,2130.2 648.7,2131.2 649.9,2139.6 645.3,2139.2 641.3,2135.2 640.3,2128.2 646.3,2124.1 641.3,2118.1 636.7,2113.1 633.3,2103.1 628.2,2095.1 625.2,2087.0 624.2,2081.0 625.2,2071.0 627.2,2063.0 628.6,2054.6Z"/></clipPath>
<g clip-path="url(#cl2)">
<circle cx="910.2" cy="2239.1" r="449.4" fill="#84AAFF"/>
<g fill="#4279FF" ><path d="M607.9,2210.0 606.4,2228.0 612.4,2252.1 619.9,2270.2 618.4,2294.2 618.4,2315.3 624.4,2336.3 633.4,2354.4 640.9,2372.4 642.5,2390.5 648.5,2414.5 660.5,2435.6 669.5,2456.6 678.5,2474.7 684.6,2492.7 692.1,2506.2 684.6,2513.8 672.5,2516.8 662.0,2513.8 660.5,2528.8 666.5,2543.8 668.0,2555.9 660.5,2567.9 654.5,2581.4 648.5,2585.9 636.4,2582.9 624.4,2570.9 612.4,2555.9 600.3,2537.8 594.3,2522.8 585.3,2510.8 570.3,2506.2 555.2,2498.7 543.2,2486.7 537.2,2471.7 532.7,2450.6 537.2,2435.6 535.7,2420.5 522.2,2411.5 516.1,2396.5 510.1,2381.4 495.1,2363.4 492.1,2342.3 483.1,2330.3 474.0,2315.3 471.0,2285.2 472.5,2255.1 478.5,2228.0 477.0,2210.0 477.0,2241.1 480.0,2211.1 484.6,2181.0 486.1,2150.9 484.6,2120.8 501.1,2071.2 516.1,2062.2 531.2,2057.7 547.7,2060.7 561.2,2087.7 576.3,2102.8 588.3,2105.8 600.3,2120.8 618.4,2138.9 636.4,2156.9 642.5,2162.9 624.4,2159.9 603.4,2162.9 594.3,2172.0 600.3,2181.0 609.4,2190.0 612.4,2211.1 606.4,2229.1 609.4,2247.1Z"/><path d="M702.6,2528.8 720.6,2533.3 735.7,2528.8 753.7,2524.3 774.8,2531.8 792.8,2539.3 810.9,2537.8 822.9,2537.8 837.9,2546.8 853.0,2557.4 868.0,2552.9 883.1,2549.8 901.1,2551.4 922.2,2560.4 898.0,2558.9 916.1,2563.4 940.2,2564.9 964.2,2564.9 988.3,2563.4 1012.3,2558.9 1030.4,2552.9 1048.4,2548.3 1066.5,2545.3 1084.5,2540.8 1090.5,2528.8 1096.5,2516.8 1095.0,2504.7 1096.5,2489.7 1108.6,2474.7 1126.6,2450.6 1141.7,2432.6 1150.7,2420.5 1162.7,2408.5 1174.7,2399.5 1182.3,2402.5 1185.3,2414.5 1192.8,2423.5 1204.8,2426.5 1216.8,2423.5 1225.9,2414.5 1237.9,2407.0 1249.9,2405.5 1265.0,2402.5 1268.0,2390.5 1254.4,2372.4 1258.9,2363.4 1274.0,2352.9 1292.0,2354.4 1307.1,2366.4 1311.6,2381.4 1307.1,2402.5 1308.6,2417.5 1306.2,2426.5 1295.9,2442.5 1280.3,2463.2 1274.0,2489.1 1274.6,2507.7 1280.0,2513.8 1391.3,2513.8 1391.3,2721.3 880.0,2721.3 792.8,2721.3 792.8,2670.2 786.8,2661.1 774.8,2649.1 762.8,2640.1 750.7,2643.1 738.7,2625.0 726.7,2616.0 714.6,2607.0 702.6,2592.0 690.6,2576.9 684.6,2561.9 687.6,2549.8 701.1,2543.8Z"/><path d="M1156.1,2033.6 1168.7,2035.1 1177.7,2042.6 1181.7,2054.7 1177.7,2068.2 1170.2,2074.2 1162.7,2066.7 1161.2,2051.7 1156.7,2042.6Z"/><path d="M1277.0,2060.7 1287.5,2054.7 1307.1,2053.2 1319.1,2054.7 1331.1,2078.7 1337.1,2102.8 1335.6,2111.8 1316.1,2117.8 1307.1,2128.3 1292.0,2128.3 1280.0,2117.8 1277.0,2096.8 1274.0,2075.7Z"/><path d="M1325.1,2185.5 1340.2,2187.0 1355.2,2196.0 1391.3,2211.1 1391.3,2274.2 1304.1,2274.2 1301.1,2247.1 1304.1,2226.1 1316.1,2211.1Z"/><path d="M1304.1,2222.0 1313.1,2216.0 1325.1,2204.0 1391.3,2204.0 1391.3,2255.1 1358.2,2256.6 1337.1,2262.6 1316.1,2271.7 1304.1,2276.2 1304.1,2264.1 1302.6,2240.1Z"/></g>
<g fill="#84AAFF" ><path d="M1101.1,2575.4 1108.6,2569.4 1120.6,2560.4 1132.6,2552.9 1144.7,2554.4 1153.7,2561.9 1165.7,2569.4 1177.7,2572.4 1192.8,2564.9 1207.8,2563.4 1219.8,2558.9 1240.9,2549.8 1240.9,2601.0 1150.7,2661.1 1120.6,2631.1 1117.6,2613.0 1111.6,2601.0 1104.1,2588.9Z"/></g>
<g fill="#1A53FF" ><path d="M834.9,2613.0 847.0,2607.0 868.0,2613.0 883.1,2595.0 904.1,2584.4 922.2,2587.4 892.0,2585.9 904.1,2584.4 922.1,2588.9 940.2,2592.0 964.2,2595.0 988.3,2593.5 1009.3,2596.5 1019.8,2604.0 1021.4,2616.0 1012.3,2631.1 1009.3,2646.1 1007.8,2667.1 991.3,2671.7 970.2,2668.6 949.2,2670.2 925.1,2674.7 907.1,2673.2 892.0,2670.2 919.1,2673.2 898.1,2670.2 877.0,2661.1 859.0,2652.1 850.0,2640.1 837.9,2628.0Z"/><path d="M1117.6,2483.7 1129.6,2468.6 1141.7,2453.6 1155.2,2446.1 1152.2,2459.6 1141.7,2474.7 1129.6,2482.2Z"/><path d="M471.0,2129.8 480.0,2125.3 492.1,2120.8 504.1,2113.3 516.1,2104.3 526.7,2095.3 531.2,2086.2 528.2,2078.7 522.2,2075.0 511.6,2075.7 504.1,2078.7 499.6,2074.2 484.6,2071.2Z"/></g>
<g fill="#0033E6" ><path d="M477.0,2114.8 484.6,2110.3 496.6,2104.3 507.1,2096.8 513.1,2090.8 511.6,2084.7 505.6,2081.7 498.1,2083.2 492.1,2087.7 484.6,2086.2Z"/></g>
<g fill="#001FBF" ><path d="M480.0,2105.8 486.8,2101.3 496.6,2096.8 504.1,2092.3 507.1,2087.7 502.6,2084.7 496.6,2086.2 491.3,2090.8 484.6,2092.3Z"/></g>
<g fill="#00008B" ><path d="M484.6,2098.3 488.3,2095.3 493.6,2092.3 497.3,2089.2 494.3,2087.7 490.6,2090.0 486.1,2093.8Z"/></g>
<g fill="#B3CCFF" ><path d="M462.0,2070.0 400.0,2000.0 400.0,1700.0 800.0,1700.0 792.8,1812.6 791.3,1829.1 795.8,1841.1 810.9,1850.2 828.9,1859.2 847.0,1865.2 868.0,1862.2 889.1,1859.2 913.1,1854.7 931.2,1844.1 895.0,1854.7 910.1,1854.7 925.1,1845.6 943.2,1841.1 964.2,1845.6 979.2,1841.1 991.3,1850.2 1000.3,1859.2 1015.3,1856.2 1027.4,1854.7 1036.4,1865.2 1043.9,1877.2 1060.5,1889.2 1075.5,1904.3 1090.5,1919.3 1108.6,1925.3 1120.6,1931.4 1129.6,1940.4 1131.1,1958.4 1138.6,1970.5 1150.7,1973.5 1156.7,1982.5 1155.2,1997.5 1141.7,2003.5 1120.6,2009.5 1102.6,2014.1 1101.1,2021.6 1108.6,2027.6 1120.6,2036.6 1135.6,2045.6 1150.7,2054.7 1159.7,2078.7 1168.7,2090.8 1177.7,2105.8 1183.8,2120.8 1195.8,2126.8 1216.8,2123.8 1233.4,2120.8 1234.9,2138.9 1234.9,2159.9 1236.4,2175.0 1225.9,2184.0 1210.8,2184.0 1204.8,2193.0 1203.3,2211.1 1207.8,2229.1 1213.8,2247.1 1216.8,2228.0 1219.8,2255.1 1216.8,2276.2 1213.8,2294.2 1207.8,2312.3 1203.3,2327.3 1198.8,2336.3 1204.8,2345.3 1201.8,2354.4 1192.8,2360.4 1180.8,2366.4 1165.7,2378.4 1150.7,2402.5 1141.7,2432.6 1126.6,2441.6 1108.6,2456.6 1090.5,2471.7 1075.5,2480.7 1060.5,2489.7 1048.4,2497.2 1030.4,2498.7 1012.3,2501.7 1000.3,2500.2 982.3,2503.2 970.2,2504.7 955.2,2507.7 940.2,2510.8 928.1,2519.8 916.1,2525.8 898.0,2519.8 880.0,2513.8 913.1,2524.3 883.1,2516.8 853.0,2507.7 822.9,2498.7 798.8,2491.2 780.8,2483.7 762.8,2480.7 744.7,2471.7 735.7,2456.6 720.6,2447.6 708.6,2432.6 702.6,2402.5 693.6,2381.4 699.6,2378.4 708.6,2366.4 702.6,2351.4 693.6,2354.4 678.5,2349.8 666.5,2339.3 663.5,2324.3 666.5,2303.2 684.6,2298.7 702.6,2300.2 711.6,2285.2 717.6,2264.1 720.6,2240.1 723.7,2210.0 726.7,2241.1 723.7,2211.1 720.6,2181.0 711.6,2165.9 672.5,2172.0 630.4,2144.9 603.4,2090.8 606.4,2054.7 618.4,2042.6 616.0,2030.6 618.4,2012.6 616.9,1993.0 588.3,1994.5 564.3,2000.5 549.2,2009.5 540.2,2021.6 534.2,2039.6 522.2,2051.7 510.1,2060.7 492.1,2075.7 462.0,2078.7Z"/><path d="M1013.8,1806.5 1021.4,1823.1 1030.4,1835.1 1042.4,1848.6 1057.4,1859.2 1072.5,1853.2 1083.0,1841.1 1081.5,1829.1 1090.5,1808.0 1060.5,1778.0 1012.3,1778.0Z"/><path d="M856.0,1796.0 871.0,1800.5 889.1,1799.0 895.1,1790.0 853.0,1784.0Z"/></g>
<g fill="#84AAFF" ><path d="M628.9,1910.3 642.5,1901.3 654.5,1889.2 666.5,1877.2 678.5,1868.2 696.6,1860.7 717.6,1857.7 728.2,1865.2 726.7,1880.2 723.7,1898.3 717.6,1916.3 702.6,1934.4 690.6,1940.4 684.6,1949.4 689.1,1961.4 684.6,1970.5 675.5,1972.0 666.5,1961.4 654.5,1949.4 642.5,1946.4 628.9,1940.4 626.8,1925.3Z"/><path d="M764.3,1869.7 771.8,1859.2 782.3,1860.7 785.3,1865.2 777.8,1872.7 765.8,1872.7Z"/><path d="M725.5,2271.4 736.5,2267.2 748.9,2265.8 750.3,2275.5 747.5,2285.1 750.3,2294.8 754.4,2307.2 757.2,2318.2 761.3,2326.5 768.2,2336.1 775.1,2344.4 783.4,2354.1 791.6,2363.7 799.9,2372.0 808.2,2378.9 813.7,2385.8 808.2,2395.4 791.6,2403.7 777.8,2406.4 764.1,2403.7 747.5,2399.5 733.7,2392.7 722.7,2381.6 714.4,2370.6 708.9,2365.1 704.8,2354.1 702.0,2340.3 699.3,2329.2 700.7,2315.5 704.8,2304.4 711.7,2290.7 720.0,2282.4Z"/></g>
<g fill="#D6EBFF" ><path d="M750.7,1823.1 762.8,1815.6 771.8,1820.1 765.8,1832.1 758.2,1832.1Z"/></g>
<g fill="#B3CCFF" ><path d="M666.2,2301.7 681.4,2298.9 695.1,2297.5 704.8,2304.4 700.7,2315.5 699.3,2329.2 702.0,2340.3 704.8,2351.3 692.4,2354.1 678.6,2349.9 667.6,2338.9 664.1,2326.5 664.8,2312.7Z"/></g>
<g fill="#4279FF" ><path d="M715.8,2315.5 722.7,2307.2 735.1,2297.5 744.8,2297.5 747.5,2304.4 742.0,2312.7 746.1,2321.0 742.0,2329.2 736.5,2334.8 739.2,2344.4 754.4,2341.7 761.3,2344.4 750.3,2354.1 748.9,2362.3 746.1,2372.0 735.1,2369.2 728.2,2362.3 725.5,2347.2 720.0,2334.8Z"/><path d="M750.3,2376.1 758.5,2367.8 764.1,2358.2 771.0,2356.8 780.6,2362.3 779.2,2374.7 777.8,2383.0 780.6,2391.3 769.6,2387.1 758.5,2381.6Z"/><path d="M681.4,2224.5 678.6,2243.8 673.1,2257.6 671.7,2271.4 678.6,2282.4 686.9,2283.8 685.5,2275.5 685.5,2267.2 692.4,2261.7 695.1,2250.7 697.9,2238.3 697.9,2224.5Z"/></g>
<g fill="#1A53FF" ><path d="M688.2,2224.5 685.5,2243.8 687.6,2254.8 692.4,2257.6 695.1,2243.8 696.5,2224.5Z"/></g>
<g fill="#4279FF" ><path d="M598.8,2060.7 606.4,2054.7 613.9,2051.7 624.4,2063.7 633.4,2075.7 642.5,2090.8 651.5,2105.8 663.5,2117.8 675.5,2126.8 693.6,2132.9 705.6,2141.9 714.6,2150.9 719.1,2164.4 705.6,2164.4 687.6,2161.4 672.5,2170.5 656.0,2167.4 639.4,2153.9 625.9,2138.9 613.9,2120.8 604.9,2102.8 599.7,2081.7Z"/><path d="M702.6,2190.0 714.6,2184.0 723.7,2178.0 720.6,2196.0 717.6,2217.1 714.6,2235.1 708.6,2253.2 699.6,2270.0 699.6,2210.0 696.6,2228.0 690.6,2249.1 684.6,2270.2 675.5,2276.2 678.5,2252.1 683.1,2228.0 690.6,2270.0 696.6,2241.1 699.6,2217.1Z"/><path d="M589.8,2106.5 589.8,2095.3 594.3,2086.2 597.3,2074.2 601.8,2063.7 606.4,2060.7 612.4,2104.3 621.4,2117.8 630.4,2129.8 639.4,2140.4 644.0,2150.9 651.5,2159.9 642.5,2162.9 627.4,2159.9 612.4,2158.4 597.3,2159.9 592.8,2140.4 589.8,2125.3Z"/></g>
<g fill="#1A53FF" ><path d="M603.4,2060.7 612.4,2054.7 621.4,2066.7 630.4,2078.7 639.4,2093.8 648.5,2108.8 660.5,2120.8 672.5,2129.8 690.6,2135.9 702.6,2144.9 711.6,2153.9 714.6,2162.9 702.6,2159.9 687.6,2156.9 672.5,2165.9 657.5,2162.9 642.5,2150.9 630.4,2135.9 618.4,2117.8 609.4,2099.8 604.9,2081.7Z"/><path d="M705.6,2211.1 714.6,2208.0 716.1,2226.1 708.6,2241.1 702.6,2232.1 705.6,2216.0 711.6,2222.0 708.6,2237.1 701.1,2234.1Z"/></g>
<g fill="#0033E6" ><path d="M609.4,2066.7 618.4,2072.7 630.4,2090.8 642.5,2108.8 657.5,2123.8 672.5,2135.9 669.5,2144.9 654.5,2141.9 639.4,2126.8 624.4,2108.8 613.9,2090.8Z"/></g>
<g fill="#001FBF" ><path d="M618.4,2090.8 625.9,2093.8 636.4,2108.8 648.5,2123.8 660.5,2138.9 654.5,2144.9 642.5,2132.9 630.4,2117.8 621.4,2102.8Z"/></g>
<g fill="#00008B" ><path d="M622.9,2096.8 630.4,2105.8 640.9,2119.3 650.0,2131.4 645.5,2134.4 634.9,2122.3 625.9,2108.8Z"/></g>
<g fill="#D6EBFF" ><path d="M625.9,2039.6 636.4,2027.6 648.5,2015.6 666.5,2006.5 687.6,1997.5 711.6,1982.5 732.7,1958.4 741.7,1940.4 750.7,1928.3 762.8,1919.3 780.8,1910.3 798.8,1904.3 816.9,1895.3 834.9,1886.2 859.0,1884.7 883.1,1892.3 901.1,1895.3 922.2,1898.3 898.0,1896.8 916.1,1898.3 934.1,1899.8 949.2,1893.8 964.2,1890.8 979.2,1895.3 994.3,1905.8 1006.3,1916.3 1015.3,1922.3 1036.4,1920.8 1057.4,1919.3 1069.5,1928.3 1078.5,1943.4 1090.5,1952.4 1102.6,1961.4 1111.6,1970.5 1116.1,1982.5 1114.6,1994.5 1102.6,2003.5 1087.5,2014.1 1096.5,2027.6 1120.6,2045.6 1144.7,2054.7 1159.7,2084.7 1171.7,2096.8 1180.8,2114.8 1189.8,2129.8 1204.8,2138.9 1212.3,2150.9 1212.3,2162.9 1204.8,2172.0 1195.8,2181.0 1192.8,2190.0 1203.3,2211.1 1209.3,2241.1 1209.3,2228.0 1212.3,2255.1 1210.8,2276.2 1206.3,2300.2 1198.8,2321.3 1192.8,2336.3 1195.8,2348.3 1189.8,2357.4 1174.7,2366.4 1159.7,2381.4 1147.7,2405.5 1135.6,2429.5 1120.6,2441.6 1102.6,2456.6 1087.5,2468.6 1066.5,2480.7 1048.4,2489.7 1030.4,2492.7 1006.3,2494.2 982.3,2497.2 964.2,2494.2 940.2,2491.2 925.1,2498.7 910.1,2504.7 898.0,2507.7 880.0,2503.2 925.2,2489.7 910.1,2498.7 889.1,2506.2 868.0,2501.7 847.0,2492.7 828.9,2480.7 807.9,2474.7 786.8,2465.6 768.8,2447.6 756.7,2426.5 746.2,2411.5 762.8,2413.0 792.8,2411.5 813.9,2405.5 810.9,2390.5 792.8,2378.4 768.2,2340.0 765.5,2335.0 761.3,2324.0 760.0,2313.0 757.2,2302.0 754.4,2288.2 753.1,2275.8 750.3,2266.1 743.4,2263.4 732.4,2259.2 721.4,2257.8 717.2,2252.3 715.8,2241.3 720.0,2227.5 722.7,2216.5 726.9,2205.5 725.5,2197.2 726.9,2186.2 724.1,2175.1 718.6,2165.5 702.6,2144.9 672.5,2120.8 648.5,2096.8 636.4,2075.7Z"/></g>
<g fill="#B3CCFF" ><path d="M848.5,1985.5 853.0,1975.0 865.0,1968.9 883.1,1965.9 913.1,1967.4 898.0,1970.5 919.1,1970.5 934.1,1966.8 946.2,1969.5 940.2,1981.0 925.1,1984.0 904.1,1982.5 913.1,1987.0 889.1,1997.5 868.0,2000.5 853.0,1997.5Z"/><path d="M657.5,2093.8 672.5,2090.8 690.6,2099.8 699.6,2114.8 684.6,2113.3 669.5,2108.8 659.0,2102.8Z"/><path d="M656.0,2204.0 666.5,2199.5 678.5,2205.5 677.0,2216.0 663.5,2214.5Z"/></g>
<g fill="#84AAFF" ><path d="M919.1,1972.0 934.1,1968.0 944.7,1970.2 939.5,1978.9 925.1,1981.9 910.1,1980.1 889.0,1981.3 889.0,1972.9Z"/><path d="M862.0,1989.1 872.5,1982.5 879.4,1988.5 868.6,1996.9Z"/><path d="M662.0,2098.3 672.5,2096.8 684.6,2104.3 683.1,2109.4 672.5,2105.8Z"/></g>
<g fill="#FFEBD9" ><path d="M634.9,2051.7 648.5,2048.6 660.5,2045.6 672.5,2036.6 690.6,2030.6 708.6,2024.6 726.7,2012.6 747.7,1997.5 762.8,1985.5 780.8,1976.5 798.8,1964.4 818.4,1949.4 831.9,1961.4 833.4,1976.5 831.9,2000.5 828.9,2024.6 831.9,2048.6 847.0,2030.6 862.0,2012.6 898.0,2000.5 910.1,1994.5 940.2,1987.0 970.2,1991.5 1006.3,2000.5 1010.8,1975.0 1027.4,1970.5 1042.4,1972.0 1054.4,1979.5 1062.0,1985.5 1051.4,1991.5 1043.9,2000.5 1057.4,2014.1 1072.5,2027.6 1090.5,2030.6 1114.6,2039.6 1135.6,2048.6 1153.7,2057.7 1162.7,2081.7 1168.7,2105.8 1174.7,2129.8 1177.7,2144.9 1162.7,2156.9 1168.7,2175.0 1183.8,2184.0 1195.8,2205.0 1201.8,2226.1 1206.3,2247.1 1206.3,2228.0 1208.4,2255.1 1206.3,2282.2 1201.8,2300.2 1192.8,2324.3 1194.3,2342.3 1186.8,2354.4 1168.7,2366.4 1156.7,2381.4 1144.7,2405.5 1132.6,2426.5 1117.6,2438.6 1099.5,2450.6 1084.5,2462.6 1060.5,2474.7 1036.4,2482.2 1012.3,2485.2 988.3,2486.7 958.2,2480.7 940.2,2474.7 929.6,2470.2 919.1,2477.7 898.0,2474.7 880.0,2471.7 931.2,2471.7 919.1,2482.2 907.1,2477.7 889.1,2474.7 868.0,2468.6 850.0,2459.6 828.9,2450.6 816.9,2435.6 812.4,2420.5 822.9,2402.5 834.9,2387.4 816.9,2384.4 801.8,2366.4 769.6,2340.0 764.1,2326.8 761.3,2315.7 760.0,2303.3 758.6,2288.2 755.8,2274.4 757.2,2263.4 762.7,2256.5 754.4,2252.3 743.4,2251.0 731.0,2249.6 721.4,2246.8 720.0,2238.5 722.7,2230.3 735.1,2228.9 757.2,2230.3 773.7,2226.8 762.7,2223.4 746.2,2224.8 732.4,2222.0 729.6,2213.7 737.9,2211.0 754.4,2213.7 765.5,2209.6 776.5,2204.1 762.7,2202.7 748.9,2200.0 737.9,2197.2 728.2,2194.4 725.5,2184.8 717.6,2150.9 702.6,2129.8 672.5,2108.8 648.5,2084.7 639.4,2072.7Z"/></g>
<g fill="#FFCCB3" ><path d="M726.7,2069.7 741.7,2063.7 750.7,2045.6 768.8,2039.6 786.8,2030.6 792.8,2023.1 800.3,2030.6 804.9,2045.6 810.9,2060.7 822.9,2066.7 834.9,2060.7 850.0,2036.6 865.0,2018.6 898.0,2005.0 913.1,1999.0 940.2,1992.1 970.2,1996.9 1000.3,2009.5 1024.4,2014.1 1048.4,2018.6 1060.5,2030.6 1078.5,2035.1 1096.5,2035.1 1114.6,2045.6 1132.6,2054.7 1150.7,2063.7 1158.2,2084.7 1164.2,2108.8 1170.2,2132.9 1173.2,2144.9 1158.2,2156.9 1164.2,2175.0 1179.2,2187.0 1191.3,2208.0 1197.3,2229.1 1202.4,2250.2 1202.4,2228.0 1204.8,2255.1 1202.4,2282.2 1197.3,2303.2 1188.3,2324.3 1189.8,2342.3 1182.3,2352.9 1165.7,2363.4 1152.2,2379.9 1141.7,2402.5 1129.6,2423.5 1114.6,2435.6 1096.5,2446.1 1081.5,2458.1 1057.4,2470.2 1033.4,2477.7 1009.3,2480.7 988.3,2482.2 961.2,2477.7 943.2,2471.7 943.2,2450.6 928.1,2447.6 916.1,2453.6 898.0,2450.6 880.0,2447.6 925.2,2447.6 913.1,2453.6 898.1,2450.6 883.1,2447.6 865.0,2441.6 847.0,2432.6 836.4,2420.5 834.9,2402.5 837.9,2390.5 822.9,2381.4 807.9,2363.4 771.0,2340.0 764.1,2326.8 761.3,2315.7 762.7,2306.1 761.3,2292.3 758.6,2278.5 760.0,2264.7 768.2,2257.8 765.5,2252.3 757.2,2249.6 748.9,2245.4 747.5,2238.5 757.2,2233.0 773.7,2228.9 782.0,2226.1 776.5,2222.0 771.0,2216.5 762.7,2213.7 768.2,2208.2 776.5,2202.7 768.2,2197.2 762.7,2191.7 751.7,2194.4 740.7,2191.7 731.0,2182.0 725.5,2168.2 726.9,2157.2 738.7,2159.9 747.7,2158.4 756.7,2168.9 762.8,2178.0 765.8,2135.9 759.7,2120.8 744.7,2108.8 741.7,2093.8 732.7,2081.7Z"/></g>
<g fill="#FFAA84" ><path d="M755.2,2083.2 765.8,2081.7 774.8,2084.7 780.8,2069.7 789.8,2066.7 801.8,2075.7 804.9,2090.8 798.8,2102.8 789.8,2108.8 788.3,2120.8 777.8,2117.8 768.8,2105.8 762.8,2096.8Z"/><path d="M877.0,2030.6 865.0,2045.6 856.0,2060.7 859.0,2072.7 850.0,2084.7 834.9,2087.7 828.9,2105.8 827.4,2120.8 822.9,2132.9 810.9,2141.9 792.8,2150.9 777.8,2158.4 768.8,2168.9 762.8,2178.0 756.7,2168.9 747.7,2158.4 738.7,2159.9 732.4,2158.6 731.7,2172.4 735.1,2179.3 740.7,2187.5 751.7,2188.9 757.2,2184.8 765.5,2188.9 773.7,2197.2 782.0,2202.7 788.9,2208.2 776.5,2215.1 771.0,2217.9 779.2,2222.0 786.1,2226.1 779.2,2230.3 762.7,2234.4 754.4,2239.9 757.2,2244.1 765.5,2246.8 773.7,2252.3 768.2,2259.2 762.7,2271.6 761.3,2282.7 764.1,2292.3 768.2,2303.3 765.5,2313.0 768.2,2324.0 773.7,2335.0 776.5,2340.0 789.8,2330.3 813.9,2357.4 828.9,2375.4 845.5,2390.5 850.0,2402.5 859.0,2417.5 874.0,2420.5 889.1,2426.5 907.1,2432.6 922.2,2426.5 934.2,2417.5 898.0,2420.5 916.1,2429.5 931.1,2426.5 944.7,2434.1 944.7,2450.6 947.7,2465.6 970.2,2474.7 994.3,2479.2 1012.3,2477.7 1036.4,2473.2 1060.5,2465.6 1084.5,2453.6 1099.5,2441.6 1117.6,2431.1 1131.1,2419.0 1143.2,2399.5 1153.7,2376.9 1167.2,2360.4 1183.8,2349.8 1188.3,2342.3 1186.8,2324.3 1195.8,2303.2 1200.3,2282.2 1202.4,2255.1 1200.3,2228.0 1200.3,2250.2 1195.2,2229.1 1189.2,2208.0 1177.7,2188.5 1162.7,2176.5 1156.7,2156.9 1171.1,2144.9 1168.1,2132.9 1162.1,2108.8 1156.1,2086.2 1149.2,2066.7 1132.6,2057.7 1114.6,2048.6 1096.5,2038.1 1078.5,2038.1 1060.5,2033.6 1048.4,2021.6 1024.4,2017.1 1000.3,2012.6 970.2,2000.5 940.2,1996.0 913.1,2002.9 898.0,2009.5 913.1,2021.6 895.1,2027.6Z"/></g>
<g fill="#FF7942" ><path d="M925.2,2027.6 910.1,2033.6 895.1,2039.6 886.1,2051.7 880.0,2069.7 868.0,2078.7 853.0,2090.8 840.9,2099.8 837.9,2108.8 850.0,2105.8 862.0,2093.8 866.5,2102.8 859.0,2114.8 871.0,2126.8 878.5,2138.9 877.0,2150.9 868.0,2147.9 853.0,2135.9 844.0,2120.8 834.9,2117.8 837.9,2129.8 850.0,2141.9 856.0,2156.9 847.0,2162.9 837.9,2159.9 844.0,2172.0 859.0,2178.0 862.0,2190.0 847.0,2193.0 831.9,2184.0 827.4,2190.0 840.9,2202.0 856.0,2211.1 857.8,2213.7 852.3,2220.6 859.2,2226.1 873.0,2230.3 878.5,2237.2 877.1,2248.2 859.2,2249.6 838.5,2251.0 831.6,2246.1 817.8,2246.1 804.1,2246.8 793.0,2248.2 790.3,2257.8 791.7,2268.9 798.5,2278.5 803.4,2297.2 795.8,2309.2 783.8,2318.3 779.3,2330.3 780.8,2342.3 792.8,2351.4 807.9,2360.4 816.9,2372.4 831.9,2378.4 850.0,2390.5 856.0,2405.5 868.0,2414.5 889.1,2420.5 907.1,2426.5 922.2,2417.5 942.0,2408.5 880.0,2378.4 895.0,2372.4 910.1,2381.4 925.1,2373.9 940.2,2378.4 949.2,2369.4 952.2,2390.5 958.2,2414.5 967.2,2438.6 973.2,2456.6 983.8,2441.6 994.3,2453.6 1003.3,2459.6 1009.3,2455.1 1015.3,2446.1 1030.4,2444.6 1048.4,2441.6 1066.5,2435.6 1081.5,2431.1 1087.5,2419.0 1096.5,2407.0 1108.6,2398.0 1120.6,2392.0 1129.6,2379.9 1138.6,2367.9 1144.7,2352.9 1150.7,2340.8 1159.7,2328.8 1168.7,2319.8 1179.2,2310.8 1176.2,2298.7 1164.2,2286.7 1167.2,2268.6 1168.7,2247.6 1162.7,2229.5 1161.2,2210.0 1170.2,2270.0 1168.7,2250.2 1165.7,2232.1 1162.7,2214.1 1156.7,2196.0 1147.7,2190.0 1135.6,2181.0 1138.6,2172.0 1141.7,2159.9 1129.6,2144.9 1135.6,2135.9 1144.7,2123.8 1141.7,2114.8 1132.6,2102.8 1126.6,2087.7 1117.6,2084.7 1108.6,2078.7 1096.5,2075.7 1087.5,2060.7 1075.5,2054.7 1072.5,2066.7 1057.4,2072.7 1046.9,2057.7 1043.9,2042.6 1036.4,2045.6 1024.4,2056.2 1006.3,2054.7 1000.3,2042.6 991.3,2035.1 979.2,2039.6 973.2,2027.6 961.2,2029.1 940.2,2026.1 919.1,2027.6 910.1,2033.6 898.0,2029.1 886.0,2030.6Z"/><path d="M770.3,2239.9 776.5,2238.5 784.8,2239.9 782.0,2244.1 773.7,2242.7Z"/></g>
<g fill="#FFAA84" ><path d="M756.7,2237.1 792.8,2234.1 822.9,2237.1 850.0,2228.0 853.0,2210.0 865.0,2210.0 877.0,2228.0 878.5,2243.1 853.0,2249.1 837.9,2247.6 810.9,2246.1 789.8,2249.1 762.8,2246.1Z"/><path d="M877.0,2243.1 878.5,2258.1 895.1,2267.1 892.1,2279.2 883.1,2282.2 880.0,2288.2 892.1,2300.2 913.1,2312.3 931.2,2321.3 942.0,2327.3 942.0,2309.2 925.2,2300.2 907.1,2282.2 901.1,2264.1 889.1,2249.1Z"/><path d="M880.0,2282.2 892.0,2285.2 898.0,2294.2 910.1,2306.2 919.1,2300.2 925.1,2297.2 928.1,2321.3 940.2,2330.3 949.2,2345.3 956.7,2360.4 958.2,2372.4 955.2,2390.5 949.2,2378.4 944.7,2351.4 928.1,2342.3 910.1,2330.3 898.0,2312.3 880.0,2309.2Z"/><path d="M850.0,2336.3 865.0,2333.3 871.0,2324.3 877.0,2300.2 880.0,2291.2 889.1,2300.2 883.1,2324.3 877.0,2339.3 865.0,2351.4 856.0,2366.4 853.0,2354.4Z"/><path d="M838.5,2251.0 828.9,2257.8 819.2,2264.7 831.6,2271.6 842.7,2278.5 856.4,2279.9 866.1,2282.7 859.2,2271.6 852.3,2260.6 845.4,2252.3Z"/></g>
<g clip-path="url(#coastclip2)" fill="none" stroke-linejoin="round"><path d="M1046.6,2020.9 1051.6,2024.5 1055.6,2016.9 1060.6,2016.5 1061.6,2026.9 1064.6,2033.9 1068.6,2039.0 1065.6,2044.0 1073.6,2042.0 1079.6,2035.4 1086.7,2036.0 1093.7,2035.0 1100.7,2036.0 1108.7,2042.0 1115.7,2047.0 1118.7,2051.4 1122.7,2051.4 1122.7,2059.0 1126.8,2058.6 1131.8,2053.0 1137.8,2051.0 1143.8,2052.0 1149.8,2052.6 1155.8,2059.0 1158.8,2066.0 1157.8,2073.0 1159.8,2078.1 1154.8,2080.1 1152.8,2077.1 1153.8,2087.1 1152.8,2094.1 1157.8,2100.1 1157.8,2107.1 1160.8,2112.1 1163.8,2115.2 1165.8,2123.2 1166.9,2131.2 1169.3,2138.2 1172.9,2140.8 1166.9,2143.2 1157.8,2150.8 1155.4,2147.2 1148.8,2151.2 1143.8,2153.2 1140.4,2157.7 1142.4,2162.3 1145.8,2157.7 1151.8,2162.3 1155.8,2166.3 1154.8,2174.3 1160.8,2177.3 1166.9,2184.3 1174.9,2184.3 1178.9,2187.3 1184.9,2196.4 1191.9,2201.4 1196.9,2211.4 1202.5,2225.4 1202.5,2237.5 1204.9,2248.5 1203.3,2255.5 1204.5,2263.5 1201.3,2271.5 1202.9,2275.6 1200.9,2281.6 1201.9,2287.6 1200.9,2294.8 1200.9,2294.8 1204.9,2298.8 1207.0,2305.8 1202.9,2313.8 1196.9,2320.9 1190.9,2326.9 1184.5,2333.3 1187.9,2336.9 1184.5,2340.5 1190.9,2344.9 1191.3,2352.9 1189.9,2361.0 1180.9,2365.0 1174.9,2369.0 1168.9,2373.4 1163.8,2380.0 1160.8,2387.0 1160.4,2394.0 1159.2,2398.1 1153.8,2399.5 1150.8,2404.1 1152.8,2408.1 1148.8,2411.1 1150.4,2416.1 1147.8,2418.7 1142.8,2419.1 1137.8,2418.1 1131.2,2421.1 1133.8,2426.1 1138.4,2431.1 1137.8,2436.2 1132.8,2441.2 1128.8,2446.2 1121.7,2453.2 1115.7,2454.2 1106.7,2459.2 1098.7,2464.2 1089.7,2469.2 1087.7,2468.2 1084.6,2472.2 1079.6,2473.2 1074.6,2468.2 1071.6,2469.2 1067.6,2472.8 1061.6,2471.2 1058.6,2467.6 1053.6,2468.2 1049.6,2472.2 1043.5,2473.2 1041.5,2476.3 1038.1,2474.2 1034.5,2477.3 1026.5,2481.3 1020.1,2476.9 1015.5,2475.7 1015.5,2480.3 1010.5,2481.3 1002.4,2481.3 993.4,2479.3 990.4,2471.2 986.0,2466.2 984.8,2470.2 986.0,2475.3 981.4,2477.7 981.4,2470.8 975.4,2472.8 969.4,2475.3 960.3,2471.2 950.7,2466.2 949.9,2470.8" stroke="#FFCCB3" stroke-width="13"/><path d="M1046.6,2020.9 1051.6,2024.5 1055.6,2016.9 1060.6,2016.5 1061.6,2026.9 1064.6,2033.9 1068.6,2039.0 1065.6,2044.0 1073.6,2042.0 1079.6,2035.4 1086.7,2036.0 1093.7,2035.0 1100.7,2036.0 1108.7,2042.0 1115.7,2047.0 1118.7,2051.4 1122.7,2051.4 1122.7,2059.0 1126.8,2058.6 1131.8,2053.0 1137.8,2051.0 1143.8,2052.0 1149.8,2052.6 1155.8,2059.0 1158.8,2066.0 1157.8,2073.0 1159.8,2078.1 1154.8,2080.1 1152.8,2077.1 1153.8,2087.1 1152.8,2094.1 1157.8,2100.1 1157.8,2107.1 1160.8,2112.1 1163.8,2115.2 1165.8,2123.2 1166.9,2131.2 1169.3,2138.2 1172.9,2140.8 1166.9,2143.2 1157.8,2150.8 1155.4,2147.2 1148.8,2151.2 1143.8,2153.2 1140.4,2157.7 1142.4,2162.3 1145.8,2157.7 1151.8,2162.3 1155.8,2166.3 1154.8,2174.3 1160.8,2177.3 1166.9,2184.3 1174.9,2184.3 1178.9,2187.3 1184.9,2196.4 1191.9,2201.4 1196.9,2211.4 1202.5,2225.4 1202.5,2237.5 1204.9,2248.5 1203.3,2255.5 1204.5,2263.5 1201.3,2271.5 1202.9,2275.6 1200.9,2281.6 1201.9,2287.6 1200.9,2294.8 1200.9,2294.8 1204.9,2298.8 1207.0,2305.8 1202.9,2313.8 1196.9,2320.9 1190.9,2326.9 1184.5,2333.3 1187.9,2336.9 1184.5,2340.5 1190.9,2344.9 1191.3,2352.9 1189.9,2361.0 1180.9,2365.0 1174.9,2369.0 1168.9,2373.4 1163.8,2380.0 1160.8,2387.0 1160.4,2394.0 1159.2,2398.1 1153.8,2399.5 1150.8,2404.1 1152.8,2408.1 1148.8,2411.1 1150.4,2416.1 1147.8,2418.7 1142.8,2419.1 1137.8,2418.1 1131.2,2421.1 1133.8,2426.1 1138.4,2431.1 1137.8,2436.2 1132.8,2441.2 1128.8,2446.2 1121.7,2453.2 1115.7,2454.2 1106.7,2459.2 1098.7,2464.2 1089.7,2469.2 1087.7,2468.2 1084.6,2472.2 1079.6,2473.2 1074.6,2468.2 1071.6,2469.2 1067.6,2472.8 1061.6,2471.2 1058.6,2467.6 1053.6,2468.2 1049.6,2472.2 1043.5,2473.2 1041.5,2476.3 1038.1,2474.2 1034.5,2477.3 1026.5,2481.3 1020.1,2476.9 1015.5,2475.7 1015.5,2480.3 1010.5,2481.3 1002.4,2481.3 993.4,2479.3 990.4,2471.2 986.0,2466.2 984.8,2470.2 986.0,2475.3 981.4,2477.7 981.4,2470.8 975.4,2472.8 969.4,2475.3 960.3,2471.2 950.7,2466.2 949.9,2470.8" stroke="#FFEBD9" stroke-width="6"/></g>
<g fill="#FFEBD9" ><path d="M830.4,2068.2 847.0,2057.7 865.0,2065.2 862.0,2086.2 840.9,2092.3 827.4,2083.2Z"/></g>
<g fill="#D6EBFF" ><path d="M831.9,2069.1 847.0,2060.1 862.6,2066.7 859.0,2084.7 840.3,2089.8 828.9,2081.7Z"/></g>
<g fill="#B3CCFF" ><path d="M833.4,2069.7 847.0,2062.2 860.5,2068.2 856.0,2083.2 839.4,2087.7 830.4,2080.2Z"/></g>
<g fill="#84AAFF" ><path d="M836.4,2071.2 847.0,2066.7 856.0,2071.2 853.0,2078.7 840.9,2083.2 834.9,2078.7Z"/></g>
<path d="M628.6,2054.6 632.3,2055.0 631.5,2059.0 638.7,2064.6 634.3,2069.0 632.7,2073.4 634.3,2083.0 638.7,2093.1 646.3,2103.1 649.3,2111.1 653.3,2119.1 660.3,2123.5 668.4,2124.1 672.8,2119.5 678.4,2118.1 690.4,2120.7 700.4,2124.1 706.5,2124.7 711.5,2130.2 719.5,2132.2 726.5,2133.2 729.5,2138.2 735.5,2141.2 741.6,2145.2 745.6,2151.2 746.6,2154.8 752.6,2160.2 756.6,2167.3 761.0,2176.3 765.6,2167.3 769.6,2159.2 775.6,2153.2 786.7,2149.6 796.7,2146.8 806.7,2143.2 814.8,2137.2 821.8,2129.2 824.4,2119.1 824.8,2113.1 827.8,2099.1 831.2,2085.0 832.4,2075.0 835.8,2070.6 833.8,2065.0 837.8,2055.0 844.8,2042.9 850.8,2034.9 858.9,2028.9 865.3,2022.9 866.5,2014.9 862.5,2011.8 865.3,2007.8 870.9,2004.8 876.5,2012.8 879.9,2008.8 878.9,2001.8 884.9,1999.8 889.0,2005.8 899.0,2004.8 901.0,1996.8 899.0,1992.8 906.2,1993.8 906.2,1994.8 907.2,1998.8 906.2,2003.8 910.2,2006.8 918.2,2001.8 925.3,1995.8 931.3,1993.2 937.3,1993.8 942.3,1990.8 952.3,1993.8 964.4,1994.8 974.4,1998.8 986.4,2001.8 996.4,2007.8 1005.5,2014.9 1012.5,2015.3 1016.1,2013.8 1021.5,2016.5 1029.5,2017.3 1038.6,2019.9 1046.6,2020.9 1051.6,2024.5 1055.6,2016.9 1060.6,2016.5 1061.6,2026.9 1064.6,2033.9 1068.6,2038.9 1065.6,2043.9 1073.7,2041.9 1079.7,2035.3 1086.7,2035.9 1093.7,2034.9 1100.7,2035.9 1108.8,2041.9 1115.8,2046.9 1118.8,2051.3 1122.8,2051.3 1122.8,2059.0 1126.8,2058.6 1131.8,2053.0 1137.8,2050.9 1143.8,2052.0 1149.9,2052.6 1155.9,2059.0 1158.9,2066.0 1157.9,2073.0 1159.9,2078.0 1154.9,2080.0 1152.9,2077.0 1153.9,2087.0 1152.9,2094.1 1157.9,2100.1 1157.9,2107.1 1160.9,2112.1 1163.9,2115.1 1165.9,2123.1 1166.9,2131.2 1169.3,2138.2 1172.9,2140.8 1166.9,2143.2 1157.9,2150.8 1155.5,2147.2 1148.9,2151.2 1143.8,2153.2 1140.4,2157.6 1142.4,2162.3 1145.9,2157.6 1151.9,2162.3 1155.9,2166.3 1154.9,2174.3 1160.9,2177.3 1166.9,2184.3 1174.9,2184.3 1178.9,2187.3 1185.0,2196.3 1192.0,2201.4 1197.0,2211.4 1202.6,2225.4 1202.6,2237.5 1205.0,2248.5 1203.4,2255.5 1204.6,2263.5 1201.4,2271.5 1203.0,2275.6 1201.0,2281.6 1202.0,2287.6 1201.0,2294.8 1201.0,2294.8 1205.0,2298.8 1207.0,2305.8 1203.0,2313.9 1197.0,2320.9 1191.0,2326.9 1184.6,2333.3 1188.0,2336.9 1184.6,2340.5 1191.0,2344.9 1191.4,2353.0 1190.0,2361.0 1180.9,2365.0 1174.9,2369.0 1168.9,2373.4 1163.9,2380.0 1160.9,2387.1 1160.5,2394.1 1159.3,2398.1 1153.9,2399.5 1150.9,2404.1 1152.9,2408.1 1148.9,2411.1 1150.5,2416.1 1147.9,2418.7 1142.8,2419.2 1137.8,2418.1 1131.2,2421.2 1133.8,2426.2 1138.4,2431.2 1137.8,2436.2 1132.8,2441.2 1128.8,2446.2 1121.8,2453.2 1115.8,2454.2 1106.7,2459.3 1098.7,2464.3 1089.7,2469.3 1087.7,2468.3 1084.7,2472.3 1079.7,2473.3 1074.7,2468.3 1071.6,2469.3 1067.6,2472.9 1061.6,2471.3 1058.6,2467.7 1053.6,2468.3 1049.6,2472.3 1043.6,2473.3 1041.6,2476.3 1038.2,2474.3 1034.5,2477.3 1026.5,2481.3 1020.1,2476.9 1015.5,2475.7 1015.5,2480.3 1010.5,2481.3 1002.5,2481.3 993.4,2479.3 990.4,2471.3 986.0,2466.3 984.8,2470.3 986.0,2475.3 981.4,2477.7 981.4,2470.9 975.4,2472.9 969.4,2475.3 960.3,2471.3 950.7,2466.3 949.9,2470.9 945.3,2464.3 948.3,2460.3 945.9,2454.2 948.7,2447.6 952.7,2443.6 957.3,2442.2 956.3,2436.8 955.9,2432.2 959.9,2430.8 960.3,2425.2 964.4,2416.1 963.4,2409.1 959.3,2400.1 953.3,2386.1 944.3,2378.6 951.3,2375.0 955.3,2370.6 956.3,2365.0 952.3,2355.0 948.3,2344.9 943.3,2336.9 936.3,2328.9 928.3,2321.9 922.2,2318.5 916.2,2319.3 911.2,2315.9 908.2,2309.9 906.2,2308.4 906.2,2305.8 896.0,2300.8 893.0,2294.8 893.0,2294.8 893.0,2290.6 882.9,2286.0 874.9,2288.6 875.9,2294.8 875.9,2294.8 876.9,2302.8 872.9,2312.9 868.9,2322.9 864.9,2332.9 859.9,2335.9 852.9,2333.9 845.8,2333.3 847.8,2342.9 850.8,2353.0 853.9,2362.0 856.5,2370.6 850.8,2372.0 847.8,2370.0 852.9,2377.0 853.3,2385.1 848.8,2387.5 843.8,2384.1 840.8,2379.0 837.8,2373.0 831.8,2369.4 824.8,2370.0 819.8,2373.0 816.4,2379.0 814.8,2385.1 806.7,2381.4 799.7,2380.0 796.7,2376.6 794.7,2377.4 786.7,2375.4 777.6,2374.6 772.6,2369.0 772.2,2359.0 773.0,2349.0 770.6,2343.9 762.6,2347.4 754.6,2349.4 746.6,2349.4 739.5,2352.0 735.5,2354.6 733.5,2350.0 736.5,2343.9 736.9,2338.9 732.5,2339.9 731.5,2334.9 728.9,2330.9 732.5,2327.9 738.5,2326.9 742.6,2322.9 744.6,2317.9 741.6,2311.9 736.5,2309.9 730.5,2311.9 724.5,2314.9 720.9,2313.9 724.5,2309.9 730.5,2306.8 734.5,2302.8 732.5,2299.8 726.5,2301.8 722.5,2303.8 720.5,2300.8 725.5,2297.8 732.5,2296.8 735.5,2294.8 733.5,2294.8 732.5,2291.6 729.5,2286.6 724.5,2285.6 723.5,2277.6 724.5,2270.5 717.5,2271.5 714.5,2275.6 706.5,2279.6 700.4,2284.6 704.4,2279.6 706.5,2273.6 702.4,2267.5 708.1,2265.5 708.5,2260.5 700.4,2260.5 695.4,2267.5 691.4,2275.6 688.4,2281.6 686.0,2277.6 687.4,2271.5 685.4,2268.5 686.4,2261.5 690.4,2260.5 692.4,2255.5 695.4,2245.5 696.8,2233.4 699.4,2221.4 698.4,2213.4 701.4,2201.4 705.9,2196.9 699.4,2197.3 696.0,2192.3 701.4,2185.3 706.5,2181.3 712.1,2183.3 712.5,2175.3 713.5,2161.2 708.5,2153.2 698.4,2148.8 682.4,2147.2 672.8,2145.2 672.8,2141.2 669.4,2135.2 663.3,2135.2 655.3,2130.2 648.7,2131.2 649.9,2139.6 645.3,2139.2 641.3,2135.2 640.3,2128.2 646.3,2124.1 641.3,2118.1 636.7,2113.1 633.3,2103.1 628.2,2095.1 625.2,2087.0 624.2,2081.0 625.2,2071.0 627.2,2063.0 628.6,2054.6Z M660.7,2149.6 680.4,2151.2 700.4,2151.2 706.5,2156.2 706.5,2167.3 702.4,2173.3 697.4,2175.3 693.4,2179.3 684.4,2184.3 680.4,2181.3 683.4,2171.3 684.0,2159.2 680.4,2157.2 663.3,2156.2Z M666.3,2168.3 672.8,2167.7 676.0,2172.3 674.4,2180.3 669.4,2178.3Z M628.2,2046.5 636.3,2045.9 634.3,2052.0 628.6,2052.0Z M937.3,2392.7 941.3,2388.7 947.3,2388.7 947.9,2395.1 943.3,2394.1Z M818.8,2382.0 825.8,2380.6 826.8,2384.1 819.8,2385.5Z M869.9,2354.0 873.9,2353.0 874.9,2361.0 871.9,2373.0 866.9,2372.0 865.9,2363.0Z M619.2,2087.0 629.2,2087.0 627.2,2100.1 622.2,2100.1Z" fill="none" stroke="#000" stroke-width="3.5" stroke-linejoin="round"/>
<path d="M611.2,2048.9 612.6,2055.0 611.8,2067.0 609.8,2072.0 607.8,2069.0 607.2,2055.0Z M639.3,1977.7 648.3,1975.7 646.3,1979.8 641.3,1982.8Z" fill="#000" stroke="#000" stroke-width="1.5" stroke-linejoin="round"/>
<path d="M500.9,2059.2 503.9,2074.4 498.5,2078.9 501.5,2083.4 493.9,2086.5 494.8,2091.0 487.9,2094.9" fill="none" stroke="#000" stroke-width="3.5" stroke-linejoin="round"/>
</g>
<circle cx="910.2" cy="2239.1" r="447.4" fill="none" stroke="#000" stroke-width="2.2"/>
<rect x="20.20" y="1368.7" width="54.23" height="43.3" fill="#00008B" stroke="#000" stroke-width="2"/>
<rect x="74.43" y="1368.7" width="54.23" height="43.3" fill="#001FBF" stroke="#000" stroke-width="2"/>
<rect x="128.66" y="1368.7" width="54.23" height="43.3" fill="#0033E6" stroke="#000" stroke-width="2"/>
<rect x="182.89" y="1368.7" width="54.23" height="43.3" fill="#1A53FF" stroke="#000" stroke-width="2"/>
<rect x="237.12" y="1368.7" width="54.23" height="43.3" fill="#4279FF" stroke="#000" stroke-width="2"/>
<rect x="291.35" y="1368.7" width="54.23" height="43.3" fill="#84AAFF" stroke="#000" stroke-width="2"/>
<rect x="345.58" y="1368.7" width="54.23" height="43.3" fill="#B3CCFF" stroke="#000" stroke-width="2"/>
<rect x="399.81" y="1368.7" width="54.23" height="43.3" fill="#D6EBFF" stroke="#000" stroke-width="2"/>
<rect x="454.04" y="1368.7" width="54.23" height="43.3" fill="#FFEBD9" stroke="#000" stroke-width="2"/>
<rect x="508.27" y="1368.7" width="54.23" height="43.3" fill="#FFCCB3" stroke="#000" stroke-width="2"/>
<rect x="562.50" y="1368.7" width="54.23" height="43.3" fill="#FFAA84" stroke="#000" stroke-width="2"/>
<rect x="616.73" y="1368.7" width="54.23" height="43.3" fill="#FF7942" stroke="#000" stroke-width="2"/>
<rect x="670.96" y="1368.7" width="54.23" height="43.3" fill="#FF531A" stroke="#000" stroke-width="2"/>
<rect x="725.19" y="1368.7" width="54.23" height="43.3" fill="#E63300" stroke="#000" stroke-width="2"/>
<rect x="779.42" y="1368.7" width="54.23" height="43.3" fill="#B8260A" stroke="#000" stroke-width="2"/>
<rect x="833.65" y="1368.7" width="54.23" height="43.3" fill="#8B0000" stroke="#000" stroke-width="2"/>
<text x="74.4" y="1461.5" font-size="34" text-anchor="middle">0.3</text>
<text x="182.9" y="1461.5" font-size="34" text-anchor="middle">0.7</text>
<text x="291.3" y="1461.5" font-size="34" text-anchor="middle">1.5</text>
<text x="399.8" y="1461.5" font-size="34" text-anchor="middle">2.5</text>
<text x="508.3" y="1461.5" font-size="34" text-anchor="middle">3.5</text>
<text x="616.7" y="1461.5" font-size="34" text-anchor="middle">4.5</text>
<text x="725.2" y="1461.5" font-size="34" text-anchor="middle">6</text>
<text x="833.6" y="1461.5" font-size="34" text-anchor="middle">8</text>
<rect x="932.60" y="1368.7" width="54.23" height="43.3" fill="#00008B" stroke="#000" stroke-width="2"/>
<rect x="986.83" y="1368.7" width="54.23" height="43.3" fill="#001FBF" stroke="#000" stroke-width="2"/>
<rect x="1041.06" y="1368.7" width="54.23" height="43.3" fill="#0033E6" stroke="#000" stroke-width="2"/>
<rect x="1095.29" y="1368.7" width="54.23" height="43.3" fill="#1A53FF" stroke="#000" stroke-width="2"/>
<rect x="1149.52" y="1368.7" width="54.23" height="43.3" fill="#4279FF" stroke="#000" stroke-width="2"/>
<rect x="1203.75" y="1368.7" width="54.23" height="43.3" fill="#84AAFF" stroke="#000" stroke-width="2"/>
<rect x="1257.98" y="1368.7" width="54.23" height="43.3" fill="#B3CCFF" stroke="#000" stroke-width="2"/>
<rect x="1312.21" y="1368.7" width="54.23" height="43.3" fill="#D6EBFF" stroke="#000" stroke-width="2"/>
<rect x="1366.44" y="1368.7" width="54.23" height="43.3" fill="#FFEBD9" stroke="#000" stroke-width="2"/>
<rect x="1420.67" y="1368.7" width="54.23" height="43.3" fill="#FFCCB3" stroke="#000" stroke-width="2"/>
<rect x="1474.90" y="1368.7" width="54.23" height="43.3" fill="#FFAA84" stroke="#000" stroke-width="2"/>
<rect x="1529.13" y="1368.7" width="54.23" height="43.3" fill="#FF7942" stroke="#000" stroke-width="2"/>
<rect x="1583.36" y="1368.7" width="54.23" height="43.3" fill="#FF531A" stroke="#000" stroke-width="2"/>
<rect x="1637.59" y="1368.7" width="54.23" height="43.3" fill="#E63300" stroke="#000" stroke-width="2"/>
<rect x="1691.82" y="1368.7" width="54.23" height="43.3" fill="#B8260A" stroke="#000" stroke-width="2"/>
<rect x="1746.05" y="1368.7" width="54.23" height="43.3" fill="#8B0000" stroke="#000" stroke-width="2"/>
<text x="986.8" y="1461.5" font-size="34" text-anchor="middle">0.3</text>
<text x="1095.3" y="1461.5" font-size="34" text-anchor="middle">0.7</text>
<text x="1203.8" y="1461.5" font-size="34" text-anchor="middle">1.5</text>
<text x="1312.2" y="1461.5" font-size="34" text-anchor="middle">2.5</text>
<text x="1420.7" y="1461.5" font-size="34" text-anchor="middle">3.5</text>
<text x="1529.1" y="1461.5" font-size="34" text-anchor="middle">4.5</text>
<text x="1637.6" y="1461.5" font-size="34" text-anchor="middle">6</text>
<text x="1746.0" y="1461.5" font-size="34" text-anchor="middle">8</text>
<rect x="1541.7" y="2632.35" width="72.8" height="44.93" fill="#00008B" stroke="#000" stroke-width="2"/>
<rect x="1541.7" y="2587.42" width="72.8" height="44.93" fill="#001FBF" stroke="#000" stroke-width="2"/>
<rect x="1541.7" y="2542.49" width="72.8" height="44.93" fill="#0033E6" stroke="#000" stroke-width="2"/>
<rect x="1541.7" y="2497.56" width="72.8" height="44.93" fill="#1A53FF" stroke="#000" stroke-width="2"/>
<rect x="1541.7" y="2452.63" width="72.8" height="44.93" fill="#4279FF" stroke="#000" stroke-width="2"/>
<rect x="1541.7" y="2407.70" width="72.8" height="44.93" fill="#84AAFF" stroke="#000" stroke-width="2"/>
<rect x="1541.7" y="2362.77" width="72.8" height="44.93" fill="#B3CCFF" stroke="#000" stroke-width="2"/>
<rect x="1541.7" y="2317.84" width="72.8" height="44.93" fill="#D6EBFF" stroke="#000" stroke-width="2"/>
<rect x="1541.7" y="2272.91" width="72.8" height="44.93" fill="#FFEBD9" stroke="#000" stroke-width="2"/>
<rect x="1541.7" y="2227.98" width="72.8" height="44.93" fill="#FFCCB3" stroke="#000" stroke-width="2"/>
<rect x="1541.7" y="2183.05" width="72.8" height="44.93" fill="#FFAA84" stroke="#000" stroke-width="2"/>
<rect x="1541.7" y="2138.12" width="72.8" height="44.93" fill="#FF7942" stroke="#000" stroke-width="2"/>
<rect x="1541.7" y="2093.19" width="72.8" height="44.93" fill="#FF531A" stroke="#000" stroke-width="2"/>
<rect x="1541.7" y="2048.26" width="72.8" height="44.93" fill="#E63300" stroke="#000" stroke-width="2"/>
<rect x="1541.7" y="2003.33" width="72.8" height="44.93" fill="#B8260A" stroke="#000" stroke-width="2"/>
<rect x="1541.7" y="1958.40" width="72.8" height="44.93" fill="#8B0000" stroke="#000" stroke-width="2"/>
<text x="1658.5" y="2643.8" font-size="31.5" text-anchor="middle">-4</text>
<text x="1658.5" y="2598.8" font-size="31.5" text-anchor="middle">-3</text>
<text x="1658.5" y="2553.9" font-size="31.5" text-anchor="middle">-2</text>
<text x="1658.5" y="2509.0" font-size="31.5" text-anchor="middle">-1.5</text>
<text x="1658.5" y="2464.0" font-size="31.5" text-anchor="middle">-1</text>
<text x="1658.5" y="2419.1" font-size="31.5" text-anchor="middle">-0.5</text>
<text x="1658.5" y="2374.2" font-size="31.5" text-anchor="middle">-0.3</text>
<text x="1658.5" y="2329.2" font-size="31.5" text-anchor="middle">0</text>
<text x="1658.5" y="2284.3" font-size="31.5" text-anchor="middle">0.3</text>
<text x="1658.5" y="2239.4" font-size="31.5" text-anchor="middle">0.5</text>
<text x="1658.5" y="2194.5" font-size="31.5" text-anchor="middle">1</text>
<text x="1658.5" y="2149.5" font-size="31.5" text-anchor="middle">1.5</text>
<text x="1658.5" y="2104.6" font-size="31.5" text-anchor="middle">2</text>
<text x="1658.5" y="2059.7" font-size="31.5" text-anchor="middle">3</text>
<text x="1658.5" y="2014.7" font-size="31.5" text-anchor="middle">4</text>
</svg>
</body></html>
